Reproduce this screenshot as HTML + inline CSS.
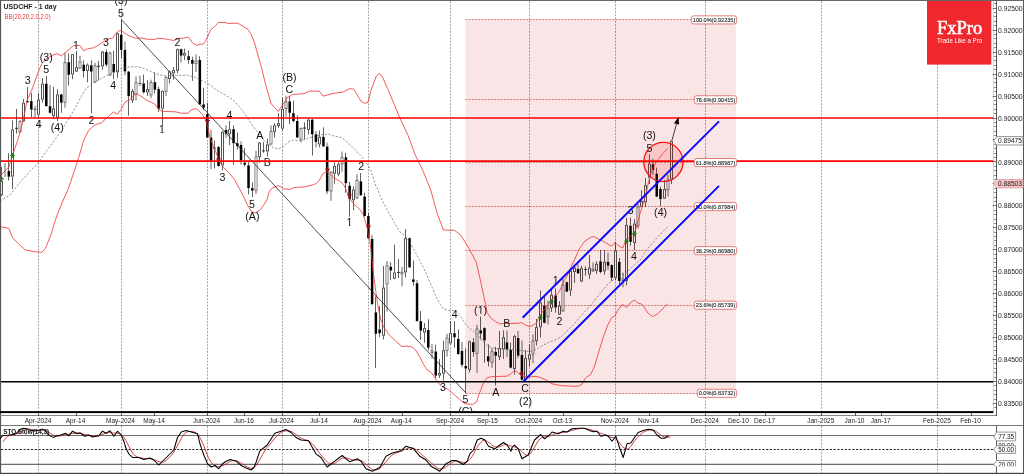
<!DOCTYPE html>
<html lang="en">
<head>
<meta charset="utf-8">
<title>USDCHF - 1 day</title>
<style>
html,body{margin:0;padding:0;background:#fff;}
body{width:1024px;height:474px;overflow:hidden;font-family:"Liberation Sans", Arial, sans-serif;}
svg{display:block;}
</style>
</head>
<body>
<svg width="1024" height="474" viewBox="0 0 1024 474" font-family='"Liberation Sans", Arial, sans-serif'>
<rect x="0" y="0" width="1024" height="474" fill="#fff"/>
<rect x="465.4" y="19.84" width="270.60" height="373.45" fill="#f5d5d5" fill-opacity="0.62"/>
<g stroke="#d44a4a" stroke-width="0.8" stroke-opacity="0.8" stroke-dasharray="2.3 0.9" fill="none">
<line x1="465.4" y1="19.50" x2="736" y2="19.50"/>
<line x1="465.4" y1="99.50" x2="736" y2="99.50"/>
<line x1="465.4" y1="162.50" x2="736" y2="162.50"/>
<line x1="465.4" y1="206.50" x2="736" y2="206.50"/>
<line x1="465.4" y1="250.50" x2="736" y2="250.50"/>
<line x1="465.4" y1="305.50" x2="736" y2="305.50"/>
<line x1="465.4" y1="393.50" x2="736" y2="393.50"/>
</g>
<g stroke="#000" stroke-opacity="0.42" stroke-width="0.85" stroke-dasharray="2 1.3" fill="none">
<line x1="38.50" y1="1" x2="38.50" y2="411.5"/>
<line x1="38.50" y1="426" x2="38.50" y2="473"/>
<line x1="121.50" y1="1" x2="121.50" y2="411.5"/>
<line x1="121.50" y1="426" x2="121.50" y2="473"/>
<line x1="207.50" y1="1" x2="207.50" y2="411.5"/>
<line x1="207.50" y1="426" x2="207.50" y2="473"/>
<line x1="282.50" y1="1" x2="282.50" y2="411.5"/>
<line x1="282.50" y1="426" x2="282.50" y2="473"/>
<line x1="368.50" y1="1" x2="368.50" y2="411.5"/>
<line x1="368.50" y1="426" x2="368.50" y2="473"/>
<line x1="450.50" y1="1" x2="450.50" y2="411.5"/>
<line x1="450.50" y1="426" x2="450.50" y2="473"/>
<line x1="529.50" y1="1" x2="529.50" y2="411.5"/>
<line x1="529.50" y1="426" x2="529.50" y2="473"/>
<line x1="615.50" y1="1" x2="615.50" y2="411.5"/>
<line x1="615.50" y1="426" x2="615.50" y2="473"/>
<line x1="705.50" y1="1" x2="705.50" y2="411.5"/>
<line x1="705.50" y1="426" x2="705.50" y2="473"/>
<line x1="821.50" y1="1" x2="821.50" y2="411.5"/>
<line x1="821.50" y1="426" x2="821.50" y2="473"/>
<line x1="937.50" y1="1" x2="937.50" y2="411.5"/>
<line x1="937.50" y1="426" x2="937.50" y2="473"/>
</g>
<defs><clipPath id="clipMain"><rect x="0" y="0" width="994" height="411"/></clipPath><clipPath id="clip20"><rect x="990" y="455" width="34" height="11.3"/></clipPath></defs>
<g fill="#000">
<rect x="1" y="181.0" width="1" height="14.0" fill-opacity="1" fill="#fff"/>
<rect x="1" y="167.0" width="1" height="14.0" fill-opacity="0.62"/>
<rect x="1" y="195.0" width="1" height="1.0" fill-opacity="0.62"/>
<rect x="0" y="181.0" width="1" height="14.0" fill-opacity="0.68"/>
<rect x="2" y="181.0" width="1" height="14.0" fill-opacity="0.68"/>
<rect x="1" y="181.0" width="1" height="0.9" fill-opacity="0.68"/>
<rect x="1" y="194.1" width="1" height="0.9" fill-opacity="0.68"/>
<rect x="4" y="163.0" width="2" height="14.0" fill-opacity="0.3"/>
<rect x="8" y="153.3" width="1" height="17.7" fill-opacity="0.62"/>
<rect x="8" y="176.7" width="1" height="3.8" fill-opacity="0.62"/>
<rect x="7.59" y="171.0" width="2.5" height="5.7" fill-opacity="1"/>
<rect x="12" y="129.5" width="1" height="47.0" fill-opacity="1" fill="#fff"/>
<rect x="12" y="120.4" width="1" height="9.1" fill-opacity="0.62"/>
<rect x="12" y="176.5" width="1" height="12.5" fill-opacity="0.62"/>
<rect x="11" y="129.5" width="1" height="47.0" fill-opacity="0.68"/>
<rect x="13" y="129.5" width="1" height="47.0" fill-opacity="0.68"/>
<rect x="12" y="129.5" width="1" height="0.9" fill-opacity="0.68"/>
<rect x="12" y="175.6" width="1" height="0.9" fill-opacity="0.68"/>
<rect x="16" y="109.0" width="1" height="24.7" fill-opacity="0.62"/>
<rect x="15" y="127.8" width="3" height="1.0" fill-opacity="0.8"/>
<rect x="19" y="121.0" width="2" height="11.4" fill-opacity="1" fill="#fff"/>
<rect x="19" y="120.0" width="2" height="1.0" fill-opacity="0.3"/>
<rect x="19" y="132.4" width="2" height="0.6" fill-opacity="0.3"/>
<rect x="18" y="121.0" width="4" height="11.4" fill-opacity="0.2"/>
<rect x="18" y="121.0" width="1" height="11.4" fill-opacity="0.1"/>
<rect x="21" y="121.0" width="1" height="11.4" fill-opacity="0.1"/>
<rect x="19" y="121.0" width="2" height="0.9" fill-opacity="0.5"/>
<rect x="19" y="131.5" width="2" height="0.9" fill-opacity="0.5"/>
<rect x="23" y="102.7" width="1" height="18.7" fill-opacity="1" fill="#fff"/>
<rect x="23" y="98.9" width="1" height="3.8" fill-opacity="0.62"/>
<rect x="23" y="121.4" width="1" height="0.6" fill-opacity="0.62"/>
<rect x="22" y="102.7" width="1" height="18.7" fill-opacity="0.68"/>
<rect x="24" y="102.7" width="1" height="18.7" fill-opacity="0.68"/>
<rect x="23" y="102.7" width="1" height="0.9" fill-opacity="0.68"/>
<rect x="23" y="120.5" width="1" height="0.9" fill-opacity="0.68"/>
<rect x="27" y="86.8" width="1" height="16.2" fill-opacity="0.62"/>
<rect x="26" y="101.2" width="3" height="1.0" fill-opacity="0.8"/>
<rect x="31" y="93.2" width="1" height="7.9" fill-opacity="0.62"/>
<rect x="31" y="109.6" width="1" height="7.6" fill-opacity="0.62"/>
<rect x="30.07" y="101.1" width="2.5" height="8.5" fill-opacity="1"/>
<rect x="34" y="105.8" width="2" height="11.4" fill-opacity="0.3"/>
<rect x="33" y="108.8" width="4" height="1.0" fill-opacity="0.45"/>
<rect x="38" y="99.5" width="1" height="15.2" fill-opacity="1" fill="#fff"/>
<rect x="38" y="93.2" width="1" height="6.3" fill-opacity="0.62"/>
<rect x="38" y="114.7" width="1" height="2.5" fill-opacity="0.62"/>
<rect x="37" y="99.5" width="1" height="15.2" fill-opacity="0.68"/>
<rect x="39" y="99.5" width="1" height="15.2" fill-opacity="0.68"/>
<rect x="38" y="99.5" width="1" height="0.9" fill-opacity="0.68"/>
<rect x="38" y="113.8" width="1" height="0.9" fill-opacity="0.68"/>
<rect x="42" y="83.7" width="1" height="15.8" fill-opacity="1" fill="#fff"/>
<rect x="42" y="78.0" width="1" height="5.7" fill-opacity="0.62"/>
<rect x="42" y="99.5" width="1" height="3.2" fill-opacity="0.62"/>
<rect x="41" y="83.7" width="1" height="15.8" fill-opacity="0.68"/>
<rect x="43" y="83.7" width="1" height="15.8" fill-opacity="0.68"/>
<rect x="42" y="83.7" width="1" height="0.9" fill-opacity="0.68"/>
<rect x="42" y="98.6" width="1" height="0.9" fill-opacity="0.68"/>
<rect x="46" y="76.1" width="1" height="7.6" fill-opacity="0.62"/>
<rect x="46" y="106.2" width="1" height="0.3" fill-opacity="0.62"/>
<rect x="45.04" y="83.7" width="2.5" height="22.5" fill-opacity="1"/>
<rect x="49" y="85.0" width="2" height="21.2" fill-opacity="0.3"/>
<rect x="49" y="112.8" width="2" height="0.7" fill-opacity="0.3"/>
<rect x="48.79" y="106.2" width="2.5" height="6.6" fill-opacity="1"/>
<rect x="53" y="108.4" width="1" height="7.6" fill-opacity="1" fill="#fff"/>
<rect x="53" y="86.8" width="1" height="21.6" fill-opacity="0.62"/>
<rect x="53" y="116.0" width="1" height="3.1" fill-opacity="0.62"/>
<rect x="52" y="108.4" width="1" height="7.6" fill-opacity="0.68"/>
<rect x="54" y="108.4" width="1" height="7.6" fill-opacity="0.68"/>
<rect x="53" y="108.4" width="1" height="0.9" fill-opacity="0.68"/>
<rect x="53" y="115.1" width="1" height="0.9" fill-opacity="0.68"/>
<rect x="57" y="94.4" width="1" height="23.4" fill-opacity="1" fill="#fff"/>
<rect x="57" y="89.4" width="1" height="5.0" fill-opacity="0.62"/>
<rect x="57" y="117.8" width="1" height="3.2" fill-opacity="0.62"/>
<rect x="56" y="94.4" width="1" height="23.4" fill-opacity="0.68"/>
<rect x="58" y="94.4" width="1" height="23.4" fill-opacity="0.68"/>
<rect x="57" y="94.4" width="1" height="0.9" fill-opacity="0.68"/>
<rect x="57" y="116.9" width="1" height="0.9" fill-opacity="0.68"/>
<rect x="61" y="93.8" width="1" height="0.6" fill-opacity="0.62"/>
<rect x="61" y="102.7" width="1" height="10.1" fill-opacity="0.62"/>
<rect x="60.02" y="94.4" width="2.5" height="8.3" fill-opacity="1"/>
<rect x="64" y="62.2" width="2" height="40.5" fill-opacity="1" fill="#fff"/>
<rect x="64" y="52.7" width="2" height="9.5" fill-opacity="0.3"/>
<rect x="64" y="102.7" width="2" height="5.0" fill-opacity="0.3"/>
<rect x="63" y="62.2" width="4" height="40.5" fill-opacity="0.2"/>
<rect x="63" y="62.2" width="1" height="40.5" fill-opacity="0.1"/>
<rect x="66" y="62.2" width="1" height="40.5" fill-opacity="0.1"/>
<rect x="64" y="62.2" width="2" height="0.9" fill-opacity="0.5"/>
<rect x="64" y="101.8" width="2" height="0.9" fill-opacity="0.5"/>
<rect x="68" y="53.3" width="1" height="8.9" fill-opacity="0.62"/>
<rect x="68" y="74.8" width="1" height="10.8" fill-opacity="0.62"/>
<rect x="67.52" y="62.2" width="2.5" height="12.6" fill-opacity="1"/>
<rect x="72" y="54.2" width="1" height="20.2" fill-opacity="1" fill="#fff"/>
<rect x="72" y="54.0" width="1" height="0.2" fill-opacity="0.62"/>
<rect x="72" y="74.4" width="1" height="4.8" fill-opacity="0.62"/>
<rect x="71" y="54.2" width="1" height="20.2" fill-opacity="0.68"/>
<rect x="73" y="54.2" width="1" height="20.2" fill-opacity="0.68"/>
<rect x="72" y="54.2" width="1" height="0.9" fill-opacity="0.68"/>
<rect x="72" y="73.5" width="1" height="0.9" fill-opacity="0.68"/>
<rect x="76" y="67.2" width="1" height="4.4" fill-opacity="1" fill="#fff"/>
<rect x="76" y="50.8" width="1" height="16.4" fill-opacity="0.62"/>
<rect x="76" y="71.6" width="1" height="0.2" fill-opacity="0.62"/>
<rect x="75" y="67.2" width="1" height="4.4" fill-opacity="0.68"/>
<rect x="77" y="67.2" width="1" height="4.4" fill-opacity="0.68"/>
<rect x="76" y="67.2" width="1" height="0.9" fill-opacity="0.68"/>
<rect x="76" y="70.7" width="1" height="0.9" fill-opacity="0.68"/>
<rect x="79" y="61.5" width="2" height="7.0" fill-opacity="1" fill="#fff"/>
<rect x="79" y="55.8" width="2" height="5.7" fill-opacity="0.3"/>
<rect x="79" y="68.5" width="2" height="0.5" fill-opacity="0.3"/>
<rect x="78" y="61.5" width="4" height="7.0" fill-opacity="0.2"/>
<rect x="78" y="61.5" width="1" height="7.0" fill-opacity="0.1"/>
<rect x="81" y="61.5" width="1" height="7.0" fill-opacity="0.1"/>
<rect x="79" y="61.5" width="2" height="0.9" fill-opacity="0.5"/>
<rect x="79" y="67.6" width="2" height="0.9" fill-opacity="0.5"/>
<rect x="83" y="60.3" width="1" height="4.4" fill-opacity="0.62"/>
<rect x="83" y="71.0" width="1" height="6.3" fill-opacity="0.62"/>
<rect x="82.5" y="64.7" width="2.5" height="6.3" fill-opacity="1"/>
<rect x="87" y="64.7" width="1" height="6.3" fill-opacity="1" fill="#fff"/>
<rect x="87" y="63.4" width="1" height="1.3" fill-opacity="0.62"/>
<rect x="87" y="71.0" width="1" height="11.4" fill-opacity="0.62"/>
<rect x="86" y="64.7" width="1" height="6.3" fill-opacity="0.68"/>
<rect x="88" y="64.7" width="1" height="6.3" fill-opacity="0.68"/>
<rect x="87" y="64.7" width="1" height="0.9" fill-opacity="0.68"/>
<rect x="87" y="70.1" width="1" height="0.9" fill-opacity="0.68"/>
<rect x="91" y="60.3" width="1" height="5.0" fill-opacity="0.62"/>
<rect x="91" y="71.6" width="1" height="41.8" fill-opacity="0.62"/>
<rect x="89.98" y="65.3" width="2.5" height="6.3" fill-opacity="1"/>
<rect x="94" y="65.3" width="2" height="17.1" fill-opacity="1" fill="#fff"/>
<rect x="94" y="62.8" width="2" height="2.5" fill-opacity="0.3"/>
<rect x="94" y="82.4" width="2" height="0.6" fill-opacity="0.3"/>
<rect x="93" y="65.3" width="4" height="17.1" fill-opacity="0.2"/>
<rect x="93" y="65.3" width="1" height="17.1" fill-opacity="0.1"/>
<rect x="96" y="65.3" width="1" height="17.1" fill-opacity="0.1"/>
<rect x="94" y="65.3" width="2" height="0.9" fill-opacity="0.5"/>
<rect x="94" y="81.5" width="2" height="0.9" fill-opacity="0.5"/>
<rect x="98" y="60.9" width="1" height="19.6" fill-opacity="0.62"/>
<rect x="97" y="65.8" width="3" height="1.0" fill-opacity="0.8"/>
<rect x="102" y="51.6" width="1" height="14.7" fill-opacity="1" fill="#fff"/>
<rect x="102" y="51.0" width="1" height="0.6" fill-opacity="0.62"/>
<rect x="102" y="66.3" width="1" height="3.4" fill-opacity="0.62"/>
<rect x="101" y="51.6" width="1" height="14.7" fill-opacity="0.68"/>
<rect x="103" y="51.6" width="1" height="14.7" fill-opacity="0.68"/>
<rect x="102" y="51.6" width="1" height="0.9" fill-opacity="0.68"/>
<rect x="102" y="65.4" width="1" height="0.9" fill-opacity="0.68"/>
<rect x="106" y="49.5" width="1" height="2.5" fill-opacity="0.62"/>
<rect x="106" y="64.7" width="1" height="1.9" fill-opacity="0.62"/>
<rect x="104.97" y="52.0" width="2.5" height="12.7" fill-opacity="1"/>
<rect x="109" y="52.7" width="2" height="22.7" fill-opacity="1" fill="#fff"/>
<rect x="109" y="51.5" width="2" height="1.2" fill-opacity="0.3"/>
<rect x="109" y="75.4" width="2" height="0.6" fill-opacity="0.3"/>
<rect x="108" y="52.7" width="4" height="22.7" fill-opacity="0.2"/>
<rect x="108" y="52.7" width="1" height="22.7" fill-opacity="0.1"/>
<rect x="111" y="52.7" width="1" height="22.7" fill-opacity="0.1"/>
<rect x="109" y="52.7" width="2" height="0.9" fill-opacity="0.5"/>
<rect x="109" y="74.5" width="2" height="0.9" fill-opacity="0.5"/>
<rect x="113" y="50.8" width="1" height="13.2" fill-opacity="0.62"/>
<rect x="113" y="72.3" width="1" height="6.9" fill-opacity="0.62"/>
<rect x="112.46" y="64.0" width="2.5" height="8.3" fill-opacity="1"/>
<rect x="117" y="33.2" width="1" height="39.1" fill-opacity="1" fill="#fff"/>
<rect x="117" y="32.3" width="1" height="0.9" fill-opacity="0.62"/>
<rect x="117" y="72.3" width="1" height="5.7" fill-opacity="0.62"/>
<rect x="116" y="33.2" width="1" height="39.1" fill-opacity="0.68"/>
<rect x="118" y="33.2" width="1" height="39.1" fill-opacity="0.68"/>
<rect x="117" y="33.2" width="1" height="0.9" fill-opacity="0.68"/>
<rect x="117" y="71.4" width="1" height="0.9" fill-opacity="0.68"/>
<rect x="121" y="19.5" width="1" height="15.2" fill-opacity="0.62"/>
<rect x="121" y="49.9" width="1" height="8.1" fill-opacity="0.62"/>
<rect x="119.95" y="34.7" width="2.5" height="15.2" fill-opacity="1"/>
<rect x="124" y="41.6" width="2" height="8.3" fill-opacity="0.3"/>
<rect x="124" y="71.4" width="2" height="3.8" fill-opacity="0.3"/>
<rect x="123.69" y="49.9" width="2.5" height="21.5" fill-opacity="1"/>
<rect x="128" y="71.0" width="1" height="0.6" fill-opacity="0.62"/>
<rect x="128" y="96.1" width="1" height="19.6" fill-opacity="0.62"/>
<rect x="127.43" y="71.6" width="2.5" height="24.5" fill-opacity="1"/>
<rect x="132" y="91.0" width="1" height="9.5" fill-opacity="1" fill="#fff"/>
<rect x="132" y="88.9" width="1" height="2.1" fill-opacity="0.62"/>
<rect x="132" y="100.5" width="1" height="2.5" fill-opacity="0.62"/>
<rect x="131" y="91.0" width="1" height="9.5" fill-opacity="0.68"/>
<rect x="133" y="91.0" width="1" height="9.5" fill-opacity="0.68"/>
<rect x="132" y="91.0" width="1" height="0.9" fill-opacity="0.68"/>
<rect x="132" y="99.6" width="1" height="0.9" fill-opacity="0.68"/>
<rect x="135" y="82.2" width="2" height="12.0" fill-opacity="1" fill="#fff"/>
<rect x="135" y="76.5" width="2" height="5.7" fill-opacity="0.3"/>
<rect x="135" y="94.2" width="2" height="6.3" fill-opacity="0.3"/>
<rect x="134" y="82.2" width="4" height="12.0" fill-opacity="0.2"/>
<rect x="134" y="82.2" width="1" height="12.0" fill-opacity="0.1"/>
<rect x="137" y="82.2" width="1" height="12.0" fill-opacity="0.1"/>
<rect x="135" y="82.2" width="2" height="0.9" fill-opacity="0.5"/>
<rect x="135" y="93.3" width="2" height="0.9" fill-opacity="0.5"/>
<rect x="139" y="75.8" width="2" height="10.2" fill-opacity="0.3"/>
<rect x="138" y="82.9" width="4" height="1.0" fill-opacity="0.45"/>
<rect x="143" y="74.6" width="1" height="8.8" fill-opacity="0.62"/>
<rect x="143" y="92.3" width="1" height="1.2" fill-opacity="0.62"/>
<rect x="142.42" y="83.4" width="2.5" height="8.9" fill-opacity="1"/>
<rect x="147" y="89.1" width="1" height="3.2" fill-opacity="1" fill="#fff"/>
<rect x="147" y="80.3" width="1" height="8.8" fill-opacity="0.62"/>
<rect x="147" y="92.3" width="1" height="3.8" fill-opacity="0.62"/>
<rect x="146" y="89.1" width="1" height="3.2" fill-opacity="0.68"/>
<rect x="148" y="89.1" width="1" height="3.2" fill-opacity="0.68"/>
<rect x="147" y="89.1" width="1" height="0.9" fill-opacity="0.68"/>
<rect x="147" y="91.4" width="1" height="0.9" fill-opacity="0.68"/>
<rect x="150" y="82.2" width="2" height="13.2" fill-opacity="1" fill="#fff"/>
<rect x="150" y="79.6" width="2" height="2.6" fill-opacity="0.3"/>
<rect x="150" y="95.4" width="2" height="2.6" fill-opacity="0.3"/>
<rect x="149" y="82.2" width="4" height="13.2" fill-opacity="0.2"/>
<rect x="149" y="82.2" width="1" height="13.2" fill-opacity="0.1"/>
<rect x="152" y="82.2" width="1" height="13.2" fill-opacity="0.1"/>
<rect x="150" y="82.2" width="2" height="0.9" fill-opacity="0.5"/>
<rect x="150" y="94.5" width="2" height="0.9" fill-opacity="0.5"/>
<rect x="154" y="72.7" width="1" height="9.5" fill-opacity="0.62"/>
<rect x="154" y="89.7" width="1" height="3.8" fill-opacity="0.62"/>
<rect x="153.65" y="82.2" width="2.5" height="7.5" fill-opacity="1"/>
<rect x="158" y="86.6" width="1" height="2.5" fill-opacity="0.62"/>
<rect x="158" y="108.7" width="1" height="3.2" fill-opacity="0.62"/>
<rect x="157.4" y="89.1" width="2.5" height="19.6" fill-opacity="1"/>
<rect x="162" y="91.0" width="1" height="17.7" fill-opacity="1" fill="#fff"/>
<rect x="162" y="90.4" width="1" height="0.6" fill-opacity="0.62"/>
<rect x="162" y="108.7" width="1" height="16.6" fill-opacity="0.62"/>
<rect x="161" y="91.0" width="1" height="17.7" fill-opacity="0.68"/>
<rect x="163" y="91.0" width="1" height="17.7" fill-opacity="0.68"/>
<rect x="162" y="91.0" width="1" height="0.9" fill-opacity="0.68"/>
<rect x="162" y="107.8" width="1" height="0.9" fill-opacity="0.68"/>
<rect x="165" y="77.1" width="2" height="14.5" fill-opacity="1" fill="#fff"/>
<rect x="165" y="76.5" width="2" height="0.6" fill-opacity="0.3"/>
<rect x="165" y="91.6" width="2" height="4.4" fill-opacity="0.3"/>
<rect x="164" y="77.1" width="4" height="14.5" fill-opacity="0.2"/>
<rect x="164" y="77.1" width="1" height="14.5" fill-opacity="0.1"/>
<rect x="167" y="77.1" width="1" height="14.5" fill-opacity="0.1"/>
<rect x="165" y="77.1" width="2" height="0.9" fill-opacity="0.5"/>
<rect x="165" y="90.7" width="2" height="0.9" fill-opacity="0.5"/>
<rect x="169" y="71.4" width="1" height="7.6" fill-opacity="1" fill="#fff"/>
<rect x="169" y="70.8" width="1" height="0.6" fill-opacity="0.62"/>
<rect x="169" y="79.0" width="1" height="4.4" fill-opacity="0.62"/>
<rect x="168" y="71.4" width="1" height="7.6" fill-opacity="0.68"/>
<rect x="170" y="71.4" width="1" height="7.6" fill-opacity="0.68"/>
<rect x="169" y="71.4" width="1" height="0.9" fill-opacity="0.68"/>
<rect x="169" y="78.1" width="1" height="0.9" fill-opacity="0.68"/>
<rect x="173" y="70.1" width="1" height="3.2" fill-opacity="1" fill="#fff"/>
<rect x="173" y="67.0" width="1" height="3.1" fill-opacity="0.62"/>
<rect x="173" y="73.3" width="1" height="6.3" fill-opacity="0.62"/>
<rect x="172" y="70.1" width="1" height="3.2" fill-opacity="0.68"/>
<rect x="174" y="70.1" width="1" height="3.2" fill-opacity="0.68"/>
<rect x="173" y="70.1" width="1" height="0.9" fill-opacity="0.68"/>
<rect x="173" y="72.4" width="1" height="0.9" fill-opacity="0.68"/>
<rect x="177" y="49.2" width="1" height="21.6" fill-opacity="1" fill="#fff"/>
<rect x="177" y="48.6" width="1" height="0.6" fill-opacity="0.62"/>
<rect x="177" y="70.8" width="1" height="2.5" fill-opacity="0.62"/>
<rect x="176" y="49.2" width="1" height="21.6" fill-opacity="0.68"/>
<rect x="178" y="49.2" width="1" height="21.6" fill-opacity="0.68"/>
<rect x="177" y="49.2" width="1" height="0.9" fill-opacity="0.68"/>
<rect x="177" y="69.9" width="1" height="0.9" fill-opacity="0.68"/>
<rect x="180" y="48.6" width="2" height="0.6" fill-opacity="0.3"/>
<rect x="180" y="55.6" width="2" height="6.9" fill-opacity="0.3"/>
<rect x="179.87" y="49.2" width="2.5" height="6.4" fill-opacity="1"/>
<rect x="184" y="53.0" width="1" height="2.6" fill-opacity="1" fill="#fff"/>
<rect x="184" y="48.6" width="1" height="4.4" fill-opacity="0.62"/>
<rect x="184" y="55.6" width="1" height="4.4" fill-opacity="0.62"/>
<rect x="183" y="53.0" width="1" height="2.6" fill-opacity="0.68"/>
<rect x="185" y="53.0" width="1" height="2.6" fill-opacity="0.68"/>
<rect x="184" y="53.0" width="1" height="0.9" fill-opacity="0.68"/>
<rect x="184" y="54.7" width="1" height="0.9" fill-opacity="0.68"/>
<rect x="188" y="50.5" width="1" height="5.7" fill-opacity="0.62"/>
<rect x="188" y="60.0" width="1" height="3.8" fill-opacity="0.62"/>
<rect x="187.36" y="56.2" width="2.5" height="3.8" fill-opacity="1"/>
<rect x="192" y="56.8" width="1" height="3.2" fill-opacity="0.62"/>
<rect x="192" y="63.8" width="1" height="17.1" fill-opacity="0.62"/>
<rect x="191.1" y="60.0" width="2.5" height="3.8" fill-opacity="1"/>
<rect x="195" y="60.6" width="2" height="3.2" fill-opacity="1" fill="#fff"/>
<rect x="195" y="54.3" width="2" height="6.3" fill-opacity="0.3"/>
<rect x="195" y="63.8" width="2" height="8.2" fill-opacity="0.3"/>
<rect x="194" y="60.6" width="4" height="3.2" fill-opacity="0.2"/>
<rect x="194" y="60.6" width="1" height="3.2" fill-opacity="0.1"/>
<rect x="197" y="60.6" width="1" height="3.2" fill-opacity="0.1"/>
<rect x="195" y="60.6" width="2" height="0.9" fill-opacity="0.5"/>
<rect x="195" y="62.9" width="2" height="0.9" fill-opacity="0.5"/>
<rect x="199" y="56.2" width="1" height="3.8" fill-opacity="0.62"/>
<rect x="199" y="104.3" width="1" height="0.7" fill-opacity="0.62"/>
<rect x="198.59" y="60.0" width="2.5" height="44.3" fill-opacity="1"/>
<rect x="203" y="87.8" width="1" height="16.5" fill-opacity="0.62"/>
<rect x="203" y="107.8" width="1" height="2.2" fill-opacity="0.62"/>
<rect x="202.34" y="104.3" width="2.5" height="3.5" fill-opacity="1"/>
<rect x="207" y="102.7" width="1" height="11.3" fill-opacity="0.62"/>
<rect x="207" y="137.5" width="1" height="0.5" fill-opacity="0.62"/>
<rect x="206.08" y="114.0" width="2.5" height="23.5" fill-opacity="1"/>
<rect x="210" y="129.9" width="2" height="7.6" fill-opacity="0.3"/>
<rect x="210" y="160.9" width="2" height="8.1" fill-opacity="0.3"/>
<rect x="209.83" y="137.5" width="2.5" height="23.4" fill-opacity="1"/>
<rect x="214" y="140.6" width="1" height="27.9" fill-opacity="0.62"/>
<rect x="213" y="147.6" width="3" height="1.0" fill-opacity="0.8"/>
<rect x="218" y="146.0" width="1" height="1.0" fill-opacity="0.62"/>
<rect x="218" y="166.0" width="1" height="0.5" fill-opacity="0.62"/>
<rect x="217.32" y="147.0" width="2.5" height="19.0" fill-opacity="1"/>
<rect x="222" y="131.8" width="1" height="33.5" fill-opacity="1" fill="#fff"/>
<rect x="222" y="131.0" width="1" height="0.8" fill-opacity="0.62"/>
<rect x="222" y="165.3" width="1" height="5.1" fill-opacity="0.62"/>
<rect x="221" y="131.8" width="1" height="33.5" fill-opacity="0.68"/>
<rect x="223" y="131.8" width="1" height="33.5" fill-opacity="0.68"/>
<rect x="222" y="131.8" width="1" height="0.9" fill-opacity="0.68"/>
<rect x="222" y="164.4" width="1" height="0.9" fill-opacity="0.68"/>
<rect x="225" y="125.4" width="2" height="4.5" fill-opacity="0.3"/>
<rect x="225" y="133.7" width="2" height="4.3" fill-opacity="0.3"/>
<rect x="224.81" y="129.9" width="2.5" height="3.8" fill-opacity="1"/>
<rect x="229" y="129.2" width="1" height="5.1" fill-opacity="1" fill="#fff"/>
<rect x="229" y="121.0" width="1" height="8.2" fill-opacity="0.62"/>
<rect x="229" y="134.3" width="1" height="10.7" fill-opacity="0.62"/>
<rect x="228" y="129.2" width="1" height="5.1" fill-opacity="0.68"/>
<rect x="230" y="129.2" width="1" height="5.1" fill-opacity="0.68"/>
<rect x="229" y="129.2" width="1" height="0.9" fill-opacity="0.68"/>
<rect x="229" y="133.4" width="1" height="0.9" fill-opacity="0.68"/>
<rect x="233" y="125.4" width="1" height="3.8" fill-opacity="0.62"/>
<rect x="233" y="143.2" width="1" height="21.5" fill-opacity="0.62"/>
<rect x="232.3" y="129.2" width="2.5" height="14.0" fill-opacity="1"/>
<rect x="237" y="132.4" width="1" height="10.8" fill-opacity="0.62"/>
<rect x="237" y="146.0" width="1" height="3.5" fill-opacity="0.62"/>
<rect x="236.04" y="143.2" width="2.5" height="2.8" fill-opacity="1"/>
<rect x="240" y="141.3" width="2" height="3.7" fill-opacity="0.3"/>
<rect x="240" y="160.3" width="2" height="4.4" fill-opacity="0.3"/>
<rect x="239.79" y="145.0" width="2.5" height="15.3" fill-opacity="1"/>
<rect x="244" y="148.2" width="1" height="14.6" fill-opacity="0.62"/>
<rect x="244" y="164.7" width="1" height="1.9" fill-opacity="0.62"/>
<rect x="243.53" y="162.8" width="2.5" height="1.9" fill-opacity="1"/>
<rect x="248" y="162.2" width="1" height="3.1" fill-opacity="0.62"/>
<rect x="248" y="188.1" width="1" height="6.3" fill-opacity="0.62"/>
<rect x="247.28" y="165.3" width="2.5" height="22.8" fill-opacity="1"/>
<rect x="252" y="182.4" width="1" height="5.7" fill-opacity="0.62"/>
<rect x="252" y="190.6" width="1" height="6.4" fill-opacity="0.62"/>
<rect x="251.02" y="188.1" width="2.5" height="2.5" fill-opacity="1"/>
<rect x="255" y="156.5" width="2" height="34.1" fill-opacity="1" fill="#fff"/>
<rect x="255" y="150.8" width="2" height="5.7" fill-opacity="0.3"/>
<rect x="255" y="190.6" width="2" height="3.2" fill-opacity="0.3"/>
<rect x="254" y="156.5" width="4" height="34.1" fill-opacity="0.2"/>
<rect x="254" y="156.5" width="1" height="34.1" fill-opacity="0.1"/>
<rect x="257" y="156.5" width="1" height="34.1" fill-opacity="0.1"/>
<rect x="255" y="156.5" width="2" height="0.9" fill-opacity="0.5"/>
<rect x="255" y="189.7" width="2" height="0.9" fill-opacity="0.5"/>
<rect x="259" y="142.5" width="1" height="14.6" fill-opacity="1" fill="#fff"/>
<rect x="259" y="142.0" width="1" height="0.5" fill-opacity="0.62"/>
<rect x="259" y="157.1" width="1" height="5.7" fill-opacity="0.62"/>
<rect x="258" y="142.5" width="1" height="14.6" fill-opacity="0.68"/>
<rect x="260" y="142.5" width="1" height="14.6" fill-opacity="0.68"/>
<rect x="259" y="142.5" width="1" height="0.9" fill-opacity="0.68"/>
<rect x="259" y="156.2" width="1" height="0.9" fill-opacity="0.68"/>
<rect x="263" y="141.9" width="1" height="10.8" fill-opacity="0.62"/>
<rect x="262" y="150.4" width="3" height="1.0" fill-opacity="0.8"/>
<rect x="267" y="144.4" width="1" height="7.0" fill-opacity="1" fill="#fff"/>
<rect x="267" y="138.7" width="1" height="5.7" fill-opacity="0.62"/>
<rect x="267" y="151.4" width="1" height="5.1" fill-opacity="0.62"/>
<rect x="266" y="144.4" width="1" height="7.0" fill-opacity="0.68"/>
<rect x="268" y="144.4" width="1" height="7.0" fill-opacity="0.68"/>
<rect x="267" y="144.4" width="1" height="0.9" fill-opacity="0.68"/>
<rect x="267" y="150.5" width="1" height="0.9" fill-opacity="0.68"/>
<rect x="270" y="131.1" width="2" height="13.3" fill-opacity="1" fill="#fff"/>
<rect x="270" y="125.4" width="2" height="5.7" fill-opacity="0.3"/>
<rect x="270" y="144.4" width="2" height="0.6" fill-opacity="0.3"/>
<rect x="269" y="131.1" width="4" height="13.3" fill-opacity="0.2"/>
<rect x="269" y="131.1" width="1" height="13.3" fill-opacity="0.1"/>
<rect x="272" y="131.1" width="1" height="13.3" fill-opacity="0.1"/>
<rect x="270" y="131.1" width="2" height="0.9" fill-opacity="0.5"/>
<rect x="270" y="143.5" width="2" height="0.9" fill-opacity="0.5"/>
<rect x="274" y="125.4" width="1" height="6.4" fill-opacity="1" fill="#fff"/>
<rect x="274" y="123.2" width="1" height="2.2" fill-opacity="0.62"/>
<rect x="274" y="131.8" width="1" height="5.7" fill-opacity="0.62"/>
<rect x="273" y="125.4" width="1" height="6.4" fill-opacity="0.68"/>
<rect x="275" y="125.4" width="1" height="6.4" fill-opacity="0.68"/>
<rect x="274" y="125.4" width="1" height="0.9" fill-opacity="0.68"/>
<rect x="274" y="130.9" width="1" height="0.9" fill-opacity="0.68"/>
<rect x="278" y="123.2" width="1" height="2.8" fill-opacity="1" fill="#fff"/>
<rect x="278" y="113.4" width="1" height="9.8" fill-opacity="0.62"/>
<rect x="278" y="126.0" width="1" height="2.0" fill-opacity="0.62"/>
<rect x="277" y="123.2" width="1" height="2.8" fill-opacity="0.68"/>
<rect x="279" y="123.2" width="1" height="2.8" fill-opacity="0.68"/>
<rect x="278" y="123.2" width="1" height="0.9" fill-opacity="0.68"/>
<rect x="278" y="125.1" width="1" height="0.9" fill-opacity="0.68"/>
<rect x="282" y="109.0" width="1" height="19.6" fill-opacity="1" fill="#fff"/>
<rect x="282" y="97.6" width="1" height="11.4" fill-opacity="0.62"/>
<rect x="282" y="128.6" width="1" height="1.9" fill-opacity="0.62"/>
<rect x="281" y="109.0" width="1" height="19.6" fill-opacity="0.68"/>
<rect x="283" y="109.0" width="1" height="19.6" fill-opacity="0.68"/>
<rect x="282" y="109.0" width="1" height="0.9" fill-opacity="0.68"/>
<rect x="282" y="127.7" width="1" height="0.9" fill-opacity="0.68"/>
<rect x="285" y="101.4" width="2" height="7.6" fill-opacity="1" fill="#fff"/>
<rect x="285" y="95.7" width="2" height="5.7" fill-opacity="0.3"/>
<rect x="285" y="109.0" width="2" height="7.6" fill-opacity="0.3"/>
<rect x="284" y="101.4" width="4" height="7.6" fill-opacity="0.2"/>
<rect x="284" y="101.4" width="1" height="7.6" fill-opacity="0.1"/>
<rect x="287" y="101.4" width="1" height="7.6" fill-opacity="0.1"/>
<rect x="285" y="101.4" width="2" height="0.9" fill-opacity="0.5"/>
<rect x="285" y="108.1" width="2" height="0.9" fill-opacity="0.5"/>
<rect x="289" y="96.3" width="1" height="5.1" fill-opacity="0.62"/>
<rect x="289" y="112.8" width="1" height="11.4" fill-opacity="0.62"/>
<rect x="288.47" y="101.4" width="2.5" height="11.4" fill-opacity="1"/>
<rect x="293" y="100.8" width="1" height="12.4" fill-opacity="0.62"/>
<rect x="293" y="121.0" width="1" height="1.3" fill-opacity="0.62"/>
<rect x="292.22" y="113.2" width="2.5" height="7.8" fill-opacity="1"/>
<rect x="297" y="115.3" width="1" height="5.7" fill-opacity="0.62"/>
<rect x="297" y="137.5" width="1" height="0.5" fill-opacity="0.62"/>
<rect x="295.96" y="121.0" width="2.5" height="16.5" fill-opacity="1"/>
<rect x="300" y="128.0" width="2" height="11.4" fill-opacity="1" fill="#fff"/>
<rect x="300" y="127.5" width="2" height="0.5" fill-opacity="0.3"/>
<rect x="300" y="139.4" width="2" height="3.1" fill-opacity="0.3"/>
<rect x="299" y="128.0" width="4" height="11.4" fill-opacity="0.2"/>
<rect x="299" y="128.0" width="1" height="11.4" fill-opacity="0.1"/>
<rect x="302" y="128.0" width="1" height="11.4" fill-opacity="0.1"/>
<rect x="300" y="128.0" width="2" height="0.9" fill-opacity="0.5"/>
<rect x="300" y="138.5" width="2" height="0.9" fill-opacity="0.5"/>
<rect x="304" y="122.3" width="1" height="17.1" fill-opacity="0.62"/>
<rect x="303" y="127.5" width="3" height="1.0" fill-opacity="0.8"/>
<rect x="308" y="119.7" width="1" height="10.2" fill-opacity="1" fill="#fff"/>
<rect x="308" y="118.5" width="1" height="1.2" fill-opacity="0.62"/>
<rect x="308" y="129.9" width="1" height="4.4" fill-opacity="0.62"/>
<rect x="307" y="119.7" width="1" height="10.2" fill-opacity="0.68"/>
<rect x="309" y="119.7" width="1" height="10.2" fill-opacity="0.68"/>
<rect x="308" y="119.7" width="1" height="0.9" fill-opacity="0.68"/>
<rect x="308" y="129.0" width="1" height="0.9" fill-opacity="0.68"/>
<rect x="312" y="118.5" width="1" height="1.2" fill-opacity="0.62"/>
<rect x="312" y="134.3" width="1" height="21.2" fill-opacity="0.62"/>
<rect x="310.94" y="119.7" width="2.5" height="14.6" fill-opacity="1"/>
<rect x="315" y="131.1" width="2" height="3.2" fill-opacity="0.3"/>
<rect x="315" y="141.9" width="2" height="5.4" fill-opacity="0.3"/>
<rect x="314.69" y="134.3" width="2.5" height="7.6" fill-opacity="1"/>
<rect x="319" y="136.8" width="1" height="7.6" fill-opacity="1" fill="#fff"/>
<rect x="319" y="130.5" width="1" height="6.3" fill-opacity="0.62"/>
<rect x="319" y="144.4" width="1" height="2.9" fill-opacity="0.62"/>
<rect x="318" y="136.8" width="1" height="7.6" fill-opacity="0.68"/>
<rect x="320" y="136.8" width="1" height="7.6" fill-opacity="0.68"/>
<rect x="319" y="136.8" width="1" height="0.9" fill-opacity="0.68"/>
<rect x="319" y="143.5" width="1" height="0.9" fill-opacity="0.68"/>
<rect x="323" y="127.3" width="1" height="9.5" fill-opacity="0.62"/>
<rect x="323" y="146.4" width="1" height="0.6" fill-opacity="0.62"/>
<rect x="322.18" y="136.8" width="2.5" height="9.6" fill-opacity="1"/>
<rect x="326" y="142.7" width="2" height="3.8" fill-opacity="0.3"/>
<rect x="326" y="191.4" width="2" height="2.6" fill-opacity="0.3"/>
<rect x="325.92" y="146.5" width="2.5" height="44.9" fill-opacity="1"/>
<rect x="330" y="171.8" width="2" height="19.6" fill-opacity="1" fill="#fff"/>
<rect x="330" y="171.0" width="2" height="0.8" fill-opacity="0.3"/>
<rect x="330" y="191.4" width="2" height="9.5" fill-opacity="0.3"/>
<rect x="329" y="171.8" width="4" height="19.6" fill-opacity="0.2"/>
<rect x="329" y="171.8" width="1" height="19.6" fill-opacity="0.1"/>
<rect x="332" y="171.8" width="1" height="19.6" fill-opacity="0.1"/>
<rect x="330" y="171.8" width="2" height="0.9" fill-opacity="0.5"/>
<rect x="330" y="190.5" width="2" height="0.9" fill-opacity="0.5"/>
<rect x="334" y="166.0" width="1" height="7.7" fill-opacity="1" fill="#fff"/>
<rect x="334" y="162.3" width="1" height="3.7" fill-opacity="0.62"/>
<rect x="334" y="173.7" width="1" height="10.1" fill-opacity="0.62"/>
<rect x="333" y="166.0" width="1" height="7.7" fill-opacity="0.68"/>
<rect x="335" y="166.0" width="1" height="7.7" fill-opacity="0.68"/>
<rect x="334" y="166.0" width="1" height="0.9" fill-opacity="0.68"/>
<rect x="334" y="172.8" width="1" height="0.9" fill-opacity="0.68"/>
<rect x="338" y="164.2" width="1" height="10.1" fill-opacity="1" fill="#fff"/>
<rect x="338" y="162.3" width="1" height="1.9" fill-opacity="0.62"/>
<rect x="338" y="174.3" width="1" height="1.9" fill-opacity="0.62"/>
<rect x="337" y="164.2" width="1" height="10.1" fill-opacity="0.68"/>
<rect x="339" y="164.2" width="1" height="10.1" fill-opacity="0.68"/>
<rect x="338" y="164.2" width="1" height="0.9" fill-opacity="0.68"/>
<rect x="338" y="173.4" width="1" height="0.9" fill-opacity="0.68"/>
<rect x="341" y="157.2" width="2" height="7.0" fill-opacity="1" fill="#fff"/>
<rect x="341" y="151.5" width="2" height="5.7" fill-opacity="0.3"/>
<rect x="341" y="164.2" width="2" height="7.6" fill-opacity="0.3"/>
<rect x="340" y="157.2" width="4" height="7.0" fill-opacity="0.2"/>
<rect x="340" y="157.2" width="1" height="7.0" fill-opacity="0.1"/>
<rect x="343" y="157.2" width="1" height="7.0" fill-opacity="0.1"/>
<rect x="341" y="157.2" width="2" height="0.9" fill-opacity="0.5"/>
<rect x="341" y="163.3" width="2" height="0.9" fill-opacity="0.5"/>
<rect x="345" y="152.8" width="1" height="4.4" fill-opacity="0.62"/>
<rect x="345" y="183.2" width="1" height="9.5" fill-opacity="0.62"/>
<rect x="344.65" y="157.2" width="2.5" height="26.0" fill-opacity="1"/>
<rect x="349" y="181.9" width="1" height="3.8" fill-opacity="0.62"/>
<rect x="349" y="199.0" width="1" height="17.7" fill-opacity="0.62"/>
<rect x="348.39" y="185.7" width="2.5" height="13.3" fill-opacity="1"/>
<rect x="353" y="189.5" width="1" height="10.8" fill-opacity="1" fill="#fff"/>
<rect x="353" y="186.3" width="1" height="3.2" fill-opacity="0.62"/>
<rect x="353" y="200.3" width="1" height="10.1" fill-opacity="0.62"/>
<rect x="352" y="189.5" width="1" height="10.8" fill-opacity="0.68"/>
<rect x="354" y="189.5" width="1" height="10.8" fill-opacity="0.68"/>
<rect x="353" y="189.5" width="1" height="0.9" fill-opacity="0.68"/>
<rect x="353" y="199.4" width="1" height="0.9" fill-opacity="0.68"/>
<rect x="356" y="180.0" width="2" height="18.4" fill-opacity="1" fill="#fff"/>
<rect x="356" y="174.3" width="2" height="5.7" fill-opacity="0.3"/>
<rect x="356" y="198.4" width="2" height="0.6" fill-opacity="0.3"/>
<rect x="355" y="180.0" width="4" height="18.4" fill-opacity="0.2"/>
<rect x="355" y="180.0" width="1" height="18.4" fill-opacity="0.1"/>
<rect x="358" y="180.0" width="1" height="18.4" fill-opacity="0.1"/>
<rect x="356" y="180.0" width="2" height="0.9" fill-opacity="0.5"/>
<rect x="356" y="197.5" width="2" height="0.9" fill-opacity="0.5"/>
<rect x="360" y="173.0" width="1" height="8.3" fill-opacity="0.62"/>
<rect x="360" y="195.2" width="1" height="0.8" fill-opacity="0.62"/>
<rect x="359.62" y="181.3" width="2.5" height="13.9" fill-opacity="1"/>
<rect x="364" y="192.7" width="1" height="3.8" fill-opacity="0.62"/>
<rect x="364" y="216.0" width="1" height="0.7" fill-opacity="0.62"/>
<rect x="363.37" y="196.5" width="2.5" height="19.5" fill-opacity="1"/>
<rect x="368" y="213.0" width="1" height="3.0" fill-opacity="0.62"/>
<rect x="368" y="238.2" width="1" height="0.6" fill-opacity="0.62"/>
<rect x="367.12" y="216.0" width="2.5" height="22.2" fill-opacity="1"/>
<rect x="371" y="235.0" width="2" height="3.9" fill-opacity="0.3"/>
<rect x="371" y="304.0" width="2" height="1.3" fill-opacity="0.3"/>
<rect x="370.86" y="238.9" width="2.5" height="65.1" fill-opacity="1"/>
<rect x="375" y="296.5" width="1" height="15.8" fill-opacity="0.62"/>
<rect x="375" y="333.8" width="1" height="34.2" fill-opacity="0.62"/>
<rect x="374.61" y="312.3" width="2.5" height="21.5" fill-opacity="1"/>
<rect x="379" y="306.0" width="1" height="23.4" fill-opacity="0.62"/>
<rect x="379" y="333.2" width="1" height="3.8" fill-opacity="0.62"/>
<rect x="378.35" y="329.4" width="2.5" height="3.8" fill-opacity="1"/>
<rect x="383" y="287.6" width="1" height="48.1" fill-opacity="1" fill="#fff"/>
<rect x="383" y="266.0" width="1" height="21.6" fill-opacity="0.62"/>
<rect x="383" y="335.7" width="1" height="3.8" fill-opacity="0.62"/>
<rect x="382" y="287.6" width="1" height="48.1" fill-opacity="0.68"/>
<rect x="384" y="287.6" width="1" height="48.1" fill-opacity="0.68"/>
<rect x="383" y="287.6" width="1" height="0.9" fill-opacity="0.68"/>
<rect x="383" y="334.8" width="1" height="0.9" fill-opacity="0.68"/>
<rect x="386" y="265.4" width="2" height="19.0" fill-opacity="1" fill="#fff"/>
<rect x="386" y="261.0" width="2" height="4.4" fill-opacity="0.3"/>
<rect x="386" y="284.4" width="2" height="27.2" fill-opacity="0.3"/>
<rect x="385" y="265.4" width="4" height="19.0" fill-opacity="0.2"/>
<rect x="385" y="265.4" width="1" height="19.0" fill-opacity="0.1"/>
<rect x="388" y="265.4" width="1" height="19.0" fill-opacity="0.1"/>
<rect x="386" y="265.4" width="2" height="0.9" fill-opacity="0.5"/>
<rect x="386" y="283.5" width="2" height="0.9" fill-opacity="0.5"/>
<rect x="390" y="262.3" width="1" height="4.4" fill-opacity="0.62"/>
<rect x="390" y="270.5" width="1" height="9.5" fill-opacity="0.62"/>
<rect x="389.59" y="266.7" width="2.5" height="3.8" fill-opacity="1"/>
<rect x="394" y="272.4" width="1" height="6.3" fill-opacity="1" fill="#fff"/>
<rect x="394" y="244.6" width="1" height="27.8" fill-opacity="0.62"/>
<rect x="394" y="278.7" width="1" height="0.6" fill-opacity="0.62"/>
<rect x="393" y="272.4" width="1" height="6.3" fill-opacity="0.68"/>
<rect x="395" y="272.4" width="1" height="6.3" fill-opacity="0.68"/>
<rect x="394" y="272.4" width="1" height="0.9" fill-opacity="0.68"/>
<rect x="394" y="277.8" width="1" height="0.9" fill-opacity="0.68"/>
<rect x="398" y="259.1" width="1" height="19.0" fill-opacity="0.62"/>
<rect x="397" y="271.9" width="3" height="1.0" fill-opacity="0.8"/>
<rect x="401" y="271.8" width="2" height="2.5" fill-opacity="1" fill="#fff"/>
<rect x="401" y="266.7" width="2" height="5.1" fill-opacity="0.3"/>
<rect x="401" y="274.3" width="2" height="12.0" fill-opacity="0.3"/>
<rect x="400" y="271.8" width="4" height="2.5" fill-opacity="0.2"/>
<rect x="400" y="271.8" width="1" height="2.5" fill-opacity="0.1"/>
<rect x="403" y="271.8" width="1" height="2.5" fill-opacity="0.1"/>
<rect x="401" y="271.8" width="2" height="0.9" fill-opacity="0.5"/>
<rect x="401" y="273.4" width="2" height="0.9" fill-opacity="0.5"/>
<rect x="405" y="238.2" width="1" height="34.2" fill-opacity="1" fill="#fff"/>
<rect x="405" y="229.1" width="1" height="9.1" fill-opacity="0.62"/>
<rect x="405" y="272.4" width="1" height="5.1" fill-opacity="0.62"/>
<rect x="404" y="238.2" width="1" height="34.2" fill-opacity="0.68"/>
<rect x="406" y="238.2" width="1" height="34.2" fill-opacity="0.68"/>
<rect x="405" y="238.2" width="1" height="0.9" fill-opacity="0.68"/>
<rect x="405" y="271.5" width="1" height="0.9" fill-opacity="0.68"/>
<rect x="409" y="237.5" width="1" height="0.7" fill-opacity="0.62"/>
<rect x="409" y="267.3" width="1" height="0.7" fill-opacity="0.62"/>
<rect x="408.31" y="238.2" width="2.5" height="29.1" fill-opacity="1"/>
<rect x="413" y="260.4" width="1" height="19.0" fill-opacity="0.62"/>
<rect x="413" y="281.9" width="1" height="3.8" fill-opacity="0.62"/>
<rect x="412.06" y="279.4" width="2.5" height="2.5" fill-opacity="1"/>
<rect x="416" y="280.0" width="2" height="3.2" fill-opacity="0.3"/>
<rect x="416" y="321.1" width="2" height="0.5" fill-opacity="0.3"/>
<rect x="415.8" y="283.2" width="2.5" height="37.9" fill-opacity="1"/>
<rect x="420" y="311.0" width="1" height="10.1" fill-opacity="0.62"/>
<rect x="420" y="330.6" width="1" height="9.4" fill-opacity="0.62"/>
<rect x="419.55" y="321.1" width="2.5" height="9.5" fill-opacity="1"/>
<rect x="424" y="328.1" width="1" height="4.4" fill-opacity="1" fill="#fff"/>
<rect x="424" y="323.0" width="1" height="5.1" fill-opacity="0.62"/>
<rect x="424" y="332.5" width="1" height="10.2" fill-opacity="0.62"/>
<rect x="423" y="328.1" width="1" height="4.4" fill-opacity="0.68"/>
<rect x="425" y="328.1" width="1" height="4.4" fill-opacity="0.68"/>
<rect x="424" y="328.1" width="1" height="0.9" fill-opacity="0.68"/>
<rect x="424" y="331.6" width="1" height="0.9" fill-opacity="0.68"/>
<rect x="428" y="319.2" width="1" height="10.8" fill-opacity="0.62"/>
<rect x="428" y="347.7" width="1" height="2.6" fill-opacity="0.62"/>
<rect x="427.04" y="330.0" width="2.5" height="17.7" fill-opacity="1"/>
<rect x="431" y="350.3" width="2" height="2.5" fill-opacity="1" fill="#fff"/>
<rect x="431" y="344.0" width="2" height="6.3" fill-opacity="0.3"/>
<rect x="431" y="352.8" width="2" height="5.7" fill-opacity="0.3"/>
<rect x="430" y="350.3" width="4" height="2.5" fill-opacity="0.2"/>
<rect x="430" y="350.3" width="1" height="2.5" fill-opacity="0.1"/>
<rect x="433" y="350.3" width="1" height="2.5" fill-opacity="0.1"/>
<rect x="431" y="350.3" width="2" height="0.9" fill-opacity="0.5"/>
<rect x="431" y="351.9" width="2" height="0.9" fill-opacity="0.5"/>
<rect x="435" y="344.6" width="1" height="6.9" fill-opacity="0.62"/>
<rect x="435" y="375.6" width="1" height="2.5" fill-opacity="0.62"/>
<rect x="434.53" y="351.5" width="2.5" height="24.1" fill-opacity="1"/>
<rect x="439" y="373.0" width="1" height="2.6" fill-opacity="1" fill="#fff"/>
<rect x="439" y="359.1" width="1" height="13.9" fill-opacity="0.62"/>
<rect x="439" y="375.6" width="1" height="2.4" fill-opacity="0.62"/>
<rect x="438" y="373.0" width="1" height="2.6" fill-opacity="0.68"/>
<rect x="440" y="373.0" width="1" height="2.6" fill-opacity="0.68"/>
<rect x="439" y="373.0" width="1" height="0.9" fill-opacity="0.68"/>
<rect x="439" y="374.7" width="1" height="0.9" fill-opacity="0.68"/>
<rect x="443" y="350.3" width="1" height="23.4" fill-opacity="1" fill="#fff"/>
<rect x="443" y="340.8" width="1" height="9.5" fill-opacity="0.62"/>
<rect x="443" y="373.7" width="1" height="6.9" fill-opacity="0.62"/>
<rect x="442" y="350.3" width="1" height="23.4" fill-opacity="0.68"/>
<rect x="444" y="350.3" width="1" height="23.4" fill-opacity="0.68"/>
<rect x="443" y="350.3" width="1" height="0.9" fill-opacity="0.68"/>
<rect x="443" y="372.8" width="1" height="0.9" fill-opacity="0.68"/>
<rect x="446" y="337.6" width="2" height="13.3" fill-opacity="1" fill="#fff"/>
<rect x="446" y="333.8" width="2" height="3.8" fill-opacity="0.3"/>
<rect x="446" y="350.9" width="2" height="5.7" fill-opacity="0.3"/>
<rect x="445" y="337.6" width="4" height="13.3" fill-opacity="0.2"/>
<rect x="445" y="337.6" width="1" height="13.3" fill-opacity="0.1"/>
<rect x="448" y="337.6" width="1" height="13.3" fill-opacity="0.1"/>
<rect x="446" y="337.6" width="2" height="0.9" fill-opacity="0.5"/>
<rect x="446" y="350.0" width="2" height="0.9" fill-opacity="0.5"/>
<rect x="450" y="333.2" width="1" height="10.1" fill-opacity="1" fill="#fff"/>
<rect x="450" y="321.1" width="1" height="12.1" fill-opacity="0.62"/>
<rect x="450" y="343.3" width="1" height="1.3" fill-opacity="0.62"/>
<rect x="449" y="333.2" width="1" height="10.1" fill-opacity="0.68"/>
<rect x="451" y="333.2" width="1" height="10.1" fill-opacity="0.68"/>
<rect x="450" y="333.2" width="1" height="0.9" fill-opacity="0.68"/>
<rect x="450" y="342.4" width="1" height="0.9" fill-opacity="0.68"/>
<rect x="454" y="321.1" width="1" height="12.1" fill-opacity="0.62"/>
<rect x="454" y="337.3" width="1" height="10.4" fill-opacity="0.62"/>
<rect x="453.25" y="333.2" width="2.5" height="4.1" fill-opacity="1"/>
<rect x="458" y="329.4" width="1" height="9.5" fill-opacity="0.62"/>
<rect x="458" y="354.0" width="1" height="0.6" fill-opacity="0.62"/>
<rect x="457" y="338.9" width="2.5" height="15.1" fill-opacity="1"/>
<rect x="461" y="342.0" width="2" height="8.9" fill-opacity="0.3"/>
<rect x="461" y="364.8" width="2" height="2.5" fill-opacity="0.3"/>
<rect x="460.74" y="350.9" width="2.5" height="13.9" fill-opacity="1"/>
<rect x="465" y="348.4" width="1" height="17.6" fill-opacity="0.62"/>
<rect x="465" y="368.5" width="1" height="24.7" fill-opacity="0.62"/>
<rect x="464.49" y="366.0" width="2.5" height="2.5" fill-opacity="1"/>
<rect x="469" y="341.3" width="1" height="28.5" fill-opacity="1" fill="#f9e5e5"/>
<rect x="469" y="340.5" width="1" height="0.8" fill-opacity="0.62"/>
<rect x="469" y="369.8" width="1" height="2.5" fill-opacity="0.62"/>
<rect x="468" y="341.3" width="1" height="28.5" fill-opacity="0.68"/>
<rect x="470" y="341.3" width="1" height="28.5" fill-opacity="0.68"/>
<rect x="469" y="341.3" width="1" height="0.9" fill-opacity="0.68"/>
<rect x="469" y="368.9" width="1" height="0.9" fill-opacity="0.68"/>
<rect x="473" y="338.1" width="1" height="4.1" fill-opacity="0.62"/>
<rect x="473" y="352.0" width="1" height="4.8" fill-opacity="0.62"/>
<rect x="471.98" y="342.2" width="2.5" height="9.8" fill-opacity="1"/>
<rect x="476" y="328.5" width="2" height="25.3" fill-opacity="1" fill="#f9e5e5"/>
<rect x="476" y="324.7" width="2" height="3.8" fill-opacity="0.3"/>
<rect x="476" y="353.8" width="2" height="19.0" fill-opacity="0.3"/>
<rect x="475" y="328.5" width="4" height="25.3" fill-opacity="0.2"/>
<rect x="475" y="328.5" width="1" height="25.3" fill-opacity="0.1"/>
<rect x="478" y="328.5" width="1" height="25.3" fill-opacity="0.1"/>
<rect x="476" y="328.5" width="2" height="0.9" fill-opacity="0.5"/>
<rect x="476" y="352.9" width="2" height="0.9" fill-opacity="0.5"/>
<rect x="480" y="316.5" width="1" height="13.9" fill-opacity="0.62"/>
<rect x="480" y="333.5" width="1" height="5.7" fill-opacity="0.62"/>
<rect x="479.47" y="330.4" width="2.5" height="3.1" fill-opacity="1"/>
<rect x="484" y="327.2" width="1" height="0.9" fill-opacity="0.62"/>
<rect x="484" y="340.5" width="1" height="22.2" fill-opacity="0.62"/>
<rect x="483.21" y="328.1" width="2.5" height="12.4" fill-opacity="1"/>
<rect x="488" y="344.3" width="1" height="12.0" fill-opacity="0.62"/>
<rect x="488" y="361.4" width="1" height="5.1" fill-opacity="0.62"/>
<rect x="486.96" y="356.3" width="2.5" height="5.1" fill-opacity="1"/>
<rect x="491" y="351.3" width="2" height="11.4" fill-opacity="1" fill="#f9e5e5"/>
<rect x="491" y="348.1" width="2" height="3.2" fill-opacity="0.3"/>
<rect x="491" y="362.7" width="2" height="5.0" fill-opacity="0.3"/>
<rect x="490" y="351.3" width="4" height="11.4" fill-opacity="0.2"/>
<rect x="490" y="351.3" width="1" height="11.4" fill-opacity="0.1"/>
<rect x="493" y="351.3" width="1" height="11.4" fill-opacity="0.1"/>
<rect x="491" y="351.3" width="2" height="0.9" fill-opacity="0.5"/>
<rect x="491" y="361.8" width="2" height="0.9" fill-opacity="0.5"/>
<rect x="495" y="346.8" width="1" height="5.1" fill-opacity="0.62"/>
<rect x="495" y="355.7" width="1" height="29.7" fill-opacity="0.62"/>
<rect x="494.45" y="351.9" width="2.5" height="3.8" fill-opacity="1"/>
<rect x="499" y="348.1" width="1" height="8.9" fill-opacity="1" fill="#f9e5e5"/>
<rect x="499" y="331.0" width="1" height="17.1" fill-opacity="0.62"/>
<rect x="499" y="357.0" width="1" height="3.1" fill-opacity="0.62"/>
<rect x="498" y="348.1" width="1" height="8.9" fill-opacity="0.68"/>
<rect x="500" y="348.1" width="1" height="8.9" fill-opacity="0.68"/>
<rect x="499" y="348.1" width="1" height="0.9" fill-opacity="0.68"/>
<rect x="499" y="356.1" width="1" height="0.9" fill-opacity="0.68"/>
<rect x="503" y="337.3" width="1" height="12.1" fill-opacity="1" fill="#f9e5e5"/>
<rect x="503" y="330.4" width="1" height="6.9" fill-opacity="0.62"/>
<rect x="503" y="349.4" width="1" height="9.5" fill-opacity="0.62"/>
<rect x="502" y="337.3" width="1" height="12.1" fill-opacity="0.68"/>
<rect x="504" y="337.3" width="1" height="12.1" fill-opacity="0.68"/>
<rect x="503" y="337.3" width="1" height="0.9" fill-opacity="0.68"/>
<rect x="503" y="348.5" width="1" height="0.9" fill-opacity="0.68"/>
<rect x="506" y="330.4" width="2" height="12.0" fill-opacity="0.3"/>
<rect x="506" y="349.4" width="2" height="7.6" fill-opacity="0.3"/>
<rect x="505.68" y="342.4" width="2.5" height="7.0" fill-opacity="1"/>
<rect x="510" y="342.4" width="1" height="7.6" fill-opacity="0.62"/>
<rect x="510" y="367.7" width="1" height="0.6" fill-opacity="0.62"/>
<rect x="509.43" y="350.0" width="2.5" height="17.7" fill-opacity="1"/>
<rect x="514" y="336.1" width="1" height="32.9" fill-opacity="1" fill="#f9e5e5"/>
<rect x="514" y="334.8" width="1" height="1.3" fill-opacity="0.62"/>
<rect x="514" y="369.0" width="1" height="5.7" fill-opacity="0.62"/>
<rect x="513" y="336.1" width="1" height="32.9" fill-opacity="0.68"/>
<rect x="515" y="336.1" width="1" height="32.9" fill-opacity="0.68"/>
<rect x="514" y="336.1" width="1" height="0.9" fill-opacity="0.68"/>
<rect x="514" y="368.1" width="1" height="0.9" fill-opacity="0.68"/>
<rect x="517" y="331.0" width="2" height="7.0" fill-opacity="0.3"/>
<rect x="517" y="355.7" width="2" height="2.5" fill-opacity="0.3"/>
<rect x="516.91" y="338.0" width="2.5" height="17.7" fill-opacity="1"/>
<rect x="521" y="340.5" width="2" height="14.5" fill-opacity="0.3"/>
<rect x="521" y="379.7" width="2" height="0.6" fill-opacity="0.3"/>
<rect x="520.66" y="355.0" width="2.5" height="24.7" fill-opacity="1"/>
<rect x="525" y="358.2" width="1" height="20.9" fill-opacity="1" fill="#f9e5e5"/>
<rect x="525" y="350.0" width="1" height="8.2" fill-opacity="0.62"/>
<rect x="525" y="379.1" width="1" height="1.9" fill-opacity="0.62"/>
<rect x="524" y="358.2" width="1" height="20.9" fill-opacity="0.68"/>
<rect x="526" y="358.2" width="1" height="20.9" fill-opacity="0.68"/>
<rect x="525" y="358.2" width="1" height="0.9" fill-opacity="0.68"/>
<rect x="525" y="378.2" width="1" height="0.9" fill-opacity="0.68"/>
<rect x="529" y="354.4" width="1" height="5.1" fill-opacity="1" fill="#f9e5e5"/>
<rect x="529" y="344.3" width="1" height="10.1" fill-opacity="0.62"/>
<rect x="529" y="359.5" width="1" height="7.0" fill-opacity="0.62"/>
<rect x="528" y="354.4" width="1" height="5.1" fill-opacity="0.68"/>
<rect x="530" y="354.4" width="1" height="5.1" fill-opacity="0.68"/>
<rect x="529" y="354.4" width="1" height="0.9" fill-opacity="0.68"/>
<rect x="529" y="358.6" width="1" height="0.9" fill-opacity="0.68"/>
<rect x="532" y="340.5" width="2" height="13.9" fill-opacity="1" fill="#f9e5e5"/>
<rect x="532" y="334.2" width="2" height="6.3" fill-opacity="0.3"/>
<rect x="532" y="354.4" width="2" height="8.9" fill-opacity="0.3"/>
<rect x="531" y="340.5" width="4" height="13.9" fill-opacity="0.2"/>
<rect x="531" y="340.5" width="1" height="13.9" fill-opacity="0.1"/>
<rect x="534" y="340.5" width="1" height="13.9" fill-opacity="0.1"/>
<rect x="532" y="340.5" width="2" height="0.9" fill-opacity="0.5"/>
<rect x="532" y="353.5" width="2" height="0.9" fill-opacity="0.5"/>
<rect x="536" y="327.2" width="1" height="13.9" fill-opacity="1" fill="#f9e5e5"/>
<rect x="536" y="319.0" width="1" height="8.2" fill-opacity="0.62"/>
<rect x="536" y="341.1" width="1" height="4.5" fill-opacity="0.62"/>
<rect x="535" y="327.2" width="1" height="13.9" fill-opacity="0.68"/>
<rect x="537" y="327.2" width="1" height="13.9" fill-opacity="0.68"/>
<rect x="536" y="327.2" width="1" height="0.9" fill-opacity="0.68"/>
<rect x="536" y="340.2" width="1" height="0.9" fill-opacity="0.68"/>
<rect x="540" y="302.4" width="1" height="24.8" fill-opacity="1" fill="#f9e5e5"/>
<rect x="540" y="290.4" width="1" height="12.0" fill-opacity="0.62"/>
<rect x="540" y="327.2" width="1" height="10.1" fill-opacity="0.62"/>
<rect x="539" y="302.4" width="1" height="24.8" fill-opacity="0.68"/>
<rect x="541" y="302.4" width="1" height="24.8" fill-opacity="0.68"/>
<rect x="540" y="302.4" width="1" height="0.9" fill-opacity="0.68"/>
<rect x="540" y="326.3" width="1" height="0.9" fill-opacity="0.68"/>
<rect x="544" y="296.7" width="1" height="8.9" fill-opacity="0.62"/>
<rect x="544" y="322.8" width="1" height="0.6" fill-opacity="0.62"/>
<rect x="543.13" y="305.6" width="2.5" height="17.2" fill-opacity="1"/>
<rect x="547" y="307.8" width="2" height="9.3" fill-opacity="1" fill="#f9e5e5"/>
<rect x="547" y="300.7" width="2" height="7.1" fill-opacity="0.3"/>
<rect x="547" y="317.1" width="2" height="7.2" fill-opacity="0.3"/>
<rect x="546" y="307.8" width="4" height="9.3" fill-opacity="0.2"/>
<rect x="546" y="307.8" width="1" height="9.3" fill-opacity="0.1"/>
<rect x="549" y="307.8" width="1" height="9.3" fill-opacity="0.1"/>
<rect x="547" y="307.8" width="2" height="0.9" fill-opacity="0.5"/>
<rect x="547" y="316.2" width="2" height="0.9" fill-opacity="0.5"/>
<rect x="551" y="294.8" width="1" height="13.3" fill-opacity="1" fill="#f9e5e5"/>
<rect x="551" y="287.8" width="1" height="7.0" fill-opacity="0.62"/>
<rect x="551" y="308.1" width="1" height="3.9" fill-opacity="0.62"/>
<rect x="550" y="294.8" width="1" height="13.3" fill-opacity="0.68"/>
<rect x="552" y="294.8" width="1" height="13.3" fill-opacity="0.68"/>
<rect x="551" y="294.8" width="1" height="0.9" fill-opacity="0.68"/>
<rect x="551" y="307.2" width="1" height="0.9" fill-opacity="0.68"/>
<rect x="555" y="288.5" width="1" height="6.9" fill-opacity="0.62"/>
<rect x="555" y="307.5" width="1" height="5.1" fill-opacity="0.62"/>
<rect x="554.36" y="295.4" width="2.5" height="12.1" fill-opacity="1"/>
<rect x="559" y="305.6" width="1" height="8.9" fill-opacity="1" fill="#f9e5e5"/>
<rect x="559" y="301.1" width="1" height="4.5" fill-opacity="0.62"/>
<rect x="559" y="314.5" width="1" height="0.5" fill-opacity="0.62"/>
<rect x="558" y="305.6" width="1" height="8.9" fill-opacity="0.68"/>
<rect x="560" y="305.6" width="1" height="8.9" fill-opacity="0.68"/>
<rect x="559" y="305.6" width="1" height="0.9" fill-opacity="0.68"/>
<rect x="559" y="313.6" width="1" height="0.9" fill-opacity="0.68"/>
<rect x="562" y="284.7" width="2" height="26.6" fill-opacity="1" fill="#f9e5e5"/>
<rect x="562" y="279.0" width="2" height="5.7" fill-opacity="0.3"/>
<rect x="562" y="311.3" width="2" height="0.7" fill-opacity="0.3"/>
<rect x="561" y="284.7" width="4" height="26.6" fill-opacity="0.2"/>
<rect x="561" y="284.7" width="1" height="26.6" fill-opacity="0.1"/>
<rect x="564" y="284.7" width="1" height="26.6" fill-opacity="0.1"/>
<rect x="562" y="284.7" width="2" height="0.9" fill-opacity="0.5"/>
<rect x="562" y="310.4" width="2" height="0.9" fill-opacity="0.5"/>
<rect x="566" y="281.5" width="1" height="0.7" fill-opacity="0.62"/>
<rect x="566" y="291.6" width="1" height="0.7" fill-opacity="0.62"/>
<rect x="565.6" y="282.2" width="2.5" height="9.4" fill-opacity="1"/>
<rect x="570" y="270.8" width="1" height="19.6" fill-opacity="1" fill="#f9e5e5"/>
<rect x="570" y="269.5" width="1" height="1.3" fill-opacity="0.62"/>
<rect x="570" y="290.4" width="1" height="5.7" fill-opacity="0.62"/>
<rect x="569" y="270.8" width="1" height="19.6" fill-opacity="0.68"/>
<rect x="571" y="270.8" width="1" height="19.6" fill-opacity="0.68"/>
<rect x="570" y="270.8" width="1" height="0.9" fill-opacity="0.68"/>
<rect x="570" y="289.5" width="1" height="0.9" fill-opacity="0.68"/>
<rect x="574" y="267.6" width="1" height="4.4" fill-opacity="1" fill="#f9e5e5"/>
<rect x="574" y="265.1" width="1" height="2.5" fill-opacity="0.62"/>
<rect x="574" y="272.0" width="1" height="10.8" fill-opacity="0.62"/>
<rect x="573" y="267.6" width="1" height="4.4" fill-opacity="0.68"/>
<rect x="575" y="267.6" width="1" height="4.4" fill-opacity="0.68"/>
<rect x="574" y="267.6" width="1" height="0.9" fill-opacity="0.68"/>
<rect x="574" y="271.1" width="1" height="0.9" fill-opacity="0.68"/>
<rect x="577" y="264.4" width="2" height="4.5" fill-opacity="0.3"/>
<rect x="577" y="273.3" width="2" height="0.6" fill-opacity="0.3"/>
<rect x="576.83" y="268.9" width="2.5" height="4.4" fill-opacity="1"/>
<rect x="581" y="268.2" width="1" height="13.3" fill-opacity="1" fill="#f9e5e5"/>
<rect x="581" y="265.7" width="1" height="2.5" fill-opacity="0.62"/>
<rect x="581" y="281.5" width="1" height="0.6" fill-opacity="0.62"/>
<rect x="580" y="268.2" width="1" height="13.3" fill-opacity="0.68"/>
<rect x="582" y="268.2" width="1" height="13.3" fill-opacity="0.68"/>
<rect x="581" y="268.2" width="1" height="0.9" fill-opacity="0.68"/>
<rect x="581" y="280.6" width="1" height="0.9" fill-opacity="0.68"/>
<rect x="585" y="266.3" width="1" height="9.5" fill-opacity="0.62"/>
<rect x="584" y="269.0" width="3" height="1.0" fill-opacity="0.8"/>
<rect x="589" y="267.6" width="1" height="7.0" fill-opacity="1" fill="#f9e5e5"/>
<rect x="589" y="255.0" width="1" height="12.6" fill-opacity="0.62"/>
<rect x="589" y="274.6" width="1" height="4.4" fill-opacity="0.62"/>
<rect x="588" y="267.6" width="1" height="7.0" fill-opacity="0.68"/>
<rect x="590" y="267.6" width="1" height="7.0" fill-opacity="0.68"/>
<rect x="589" y="267.6" width="1" height="0.9" fill-opacity="0.68"/>
<rect x="589" y="273.7" width="1" height="0.9" fill-opacity="0.68"/>
<rect x="592" y="268.9" width="2" height="2.5" fill-opacity="1" fill="#f9e5e5"/>
<rect x="592" y="262.5" width="2" height="6.4" fill-opacity="0.3"/>
<rect x="592" y="271.4" width="2" height="0.6" fill-opacity="0.3"/>
<rect x="591" y="268.9" width="4" height="2.5" fill-opacity="0.2"/>
<rect x="591" y="268.9" width="1" height="2.5" fill-opacity="0.1"/>
<rect x="594" y="268.9" width="1" height="2.5" fill-opacity="0.1"/>
<rect x="592" y="268.9" width="2" height="0.9" fill-opacity="0.5"/>
<rect x="592" y="270.5" width="2" height="0.9" fill-opacity="0.5"/>
<rect x="596" y="263.8" width="1" height="7.0" fill-opacity="1" fill="#f9e5e5"/>
<rect x="596" y="261.3" width="1" height="2.5" fill-opacity="0.62"/>
<rect x="596" y="270.8" width="1" height="3.1" fill-opacity="0.62"/>
<rect x="595" y="263.8" width="1" height="7.0" fill-opacity="0.68"/>
<rect x="597" y="263.8" width="1" height="7.0" fill-opacity="0.68"/>
<rect x="596" y="263.8" width="1" height="0.9" fill-opacity="0.68"/>
<rect x="596" y="269.9" width="1" height="0.9" fill-opacity="0.68"/>
<rect x="600" y="250.0" width="1" height="11.3" fill-opacity="0.62"/>
<rect x="600" y="272.0" width="1" height="1.3" fill-opacity="0.62"/>
<rect x="599.3" y="261.3" width="2.5" height="10.7" fill-opacity="1"/>
<rect x="604" y="261.9" width="1" height="9.5" fill-opacity="1" fill="#f9e5e5"/>
<rect x="604" y="250.0" width="1" height="11.9" fill-opacity="0.62"/>
<rect x="604" y="271.4" width="1" height="3.2" fill-opacity="0.62"/>
<rect x="603" y="261.9" width="1" height="9.5" fill-opacity="0.68"/>
<rect x="605" y="261.9" width="1" height="9.5" fill-opacity="0.68"/>
<rect x="604" y="261.9" width="1" height="0.9" fill-opacity="0.68"/>
<rect x="604" y="270.5" width="1" height="0.9" fill-opacity="0.68"/>
<rect x="607" y="252.5" width="2" height="9.4" fill-opacity="0.3"/>
<rect x="607" y="265.7" width="2" height="4.4" fill-opacity="0.3"/>
<rect x="606.79" y="261.9" width="2.5" height="3.8" fill-opacity="1"/>
<rect x="611" y="264.5" width="1" height="0.6" fill-opacity="0.62"/>
<rect x="611" y="277.7" width="1" height="3.2" fill-opacity="0.62"/>
<rect x="610.54" y="265.1" width="2.5" height="12.6" fill-opacity="1"/>
<rect x="615" y="250.6" width="1" height="27.1" fill-opacity="1" fill="#f9e5e5"/>
<rect x="615" y="241.8" width="1" height="8.8" fill-opacity="0.62"/>
<rect x="615" y="277.7" width="1" height="2.6" fill-opacity="0.62"/>
<rect x="614" y="250.6" width="1" height="27.1" fill-opacity="0.68"/>
<rect x="616" y="250.6" width="1" height="27.1" fill-opacity="0.68"/>
<rect x="615" y="250.6" width="1" height="0.9" fill-opacity="0.68"/>
<rect x="615" y="276.8" width="1" height="0.9" fill-opacity="0.68"/>
<rect x="619" y="258.0" width="1" height="3.9" fill-opacity="0.62"/>
<rect x="619" y="280.9" width="1" height="3.1" fill-opacity="0.62"/>
<rect x="618.03" y="261.9" width="2.5" height="19.0" fill-opacity="1"/>
<rect x="622" y="278.4" width="2" height="2.5" fill-opacity="1" fill="#f9e5e5"/>
<rect x="622" y="272.7" width="2" height="5.7" fill-opacity="0.3"/>
<rect x="622" y="280.9" width="2" height="6.3" fill-opacity="0.3"/>
<rect x="621" y="278.4" width="4" height="2.5" fill-opacity="0.2"/>
<rect x="621" y="278.4" width="1" height="2.5" fill-opacity="0.1"/>
<rect x="624" y="278.4" width="1" height="2.5" fill-opacity="0.1"/>
<rect x="622" y="278.4" width="2" height="0.9" fill-opacity="0.5"/>
<rect x="622" y="280.0" width="2" height="0.9" fill-opacity="0.5"/>
<rect x="626" y="224.9" width="1" height="56.0" fill-opacity="1" fill="#f9e5e5"/>
<rect x="626" y="217.7" width="1" height="7.2" fill-opacity="0.62"/>
<rect x="626" y="280.9" width="1" height="4.4" fill-opacity="0.62"/>
<rect x="625" y="224.9" width="1" height="56.0" fill-opacity="0.68"/>
<rect x="627" y="224.9" width="1" height="56.0" fill-opacity="0.68"/>
<rect x="626" y="224.9" width="1" height="0.9" fill-opacity="0.68"/>
<rect x="626" y="280.0" width="1" height="0.9" fill-opacity="0.68"/>
<rect x="630" y="217.6" width="1" height="8.2" fill-opacity="0.62"/>
<rect x="630" y="241.8" width="1" height="3.8" fill-opacity="0.62"/>
<rect x="629.26" y="225.8" width="2.5" height="16.0" fill-opacity="1"/>
<rect x="634" y="223.6" width="1" height="19.4" fill-opacity="1" fill="#f9e5e5"/>
<rect x="634" y="219.2" width="1" height="4.4" fill-opacity="0.62"/>
<rect x="634" y="243.0" width="1" height="7.0" fill-opacity="0.62"/>
<rect x="633" y="223.6" width="1" height="19.4" fill-opacity="0.68"/>
<rect x="635" y="223.6" width="1" height="19.4" fill-opacity="0.68"/>
<rect x="634" y="223.6" width="1" height="0.9" fill-opacity="0.68"/>
<rect x="634" y="242.1" width="1" height="0.9" fill-opacity="0.68"/>
<rect x="637" y="206.5" width="2" height="19.7" fill-opacity="1" fill="#f9e5e5"/>
<rect x="637" y="204.0" width="2" height="2.5" fill-opacity="0.3"/>
<rect x="637" y="226.2" width="2" height="2.3" fill-opacity="0.3"/>
<rect x="636" y="206.5" width="4" height="19.7" fill-opacity="0.2"/>
<rect x="636" y="206.5" width="1" height="19.7" fill-opacity="0.1"/>
<rect x="639" y="206.5" width="1" height="19.7" fill-opacity="0.1"/>
<rect x="637" y="206.5" width="2" height="0.9" fill-opacity="0.5"/>
<rect x="637" y="225.3" width="2" height="0.9" fill-opacity="0.5"/>
<rect x="641" y="201.0" width="1" height="5.7" fill-opacity="1" fill="#f9e5e5"/>
<rect x="641" y="190.3" width="1" height="10.7" fill-opacity="0.62"/>
<rect x="641" y="206.7" width="1" height="0.6" fill-opacity="0.62"/>
<rect x="640" y="201.0" width="1" height="5.7" fill-opacity="0.68"/>
<rect x="642" y="201.0" width="1" height="5.7" fill-opacity="0.68"/>
<rect x="641" y="201.0" width="1" height="0.9" fill-opacity="0.68"/>
<rect x="641" y="205.8" width="1" height="0.9" fill-opacity="0.68"/>
<rect x="645" y="185.2" width="1" height="17.1" fill-opacity="1" fill="#f9e5e5"/>
<rect x="645" y="178.0" width="1" height="7.2" fill-opacity="0.62"/>
<rect x="645" y="202.3" width="1" height="4.4" fill-opacity="0.62"/>
<rect x="644" y="185.2" width="1" height="17.1" fill-opacity="0.68"/>
<rect x="646" y="185.2" width="1" height="17.1" fill-opacity="0.68"/>
<rect x="645" y="185.2" width="1" height="0.9" fill-opacity="0.68"/>
<rect x="645" y="201.4" width="1" height="0.9" fill-opacity="0.68"/>
<rect x="649" y="163.7" width="1" height="13.9" fill-opacity="1" fill="#f9e5e5"/>
<rect x="649" y="154.2" width="1" height="9.5" fill-opacity="0.62"/>
<rect x="649" y="177.6" width="1" height="6.4" fill-opacity="0.62"/>
<rect x="648" y="163.7" width="1" height="13.9" fill-opacity="0.68"/>
<rect x="650" y="163.7" width="1" height="13.9" fill-opacity="0.68"/>
<rect x="649" y="163.7" width="1" height="0.9" fill-opacity="0.68"/>
<rect x="649" y="176.7" width="1" height="0.9" fill-opacity="0.68"/>
<rect x="652" y="158.6" width="2" height="5.7" fill-opacity="0.3"/>
<rect x="652" y="170.0" width="2" height="5.0" fill-opacity="0.3"/>
<rect x="651.73" y="164.3" width="2.5" height="5.7" fill-opacity="1"/>
<rect x="656" y="167.5" width="1" height="6.3" fill-opacity="0.62"/>
<rect x="656" y="196.6" width="1" height="0.6" fill-opacity="0.62"/>
<rect x="655.48" y="173.8" width="2.5" height="22.8" fill-opacity="1"/>
<rect x="660" y="186.5" width="1" height="2.5" fill-opacity="0.62"/>
<rect x="660" y="199.1" width="1" height="7.0" fill-opacity="0.62"/>
<rect x="659.22" y="189.0" width="2.5" height="10.1" fill-opacity="1"/>
<rect x="664" y="189.0" width="1" height="9.5" fill-opacity="1" fill="#f9e5e5"/>
<rect x="664" y="180.0" width="1" height="9.0" fill-opacity="0.62"/>
<rect x="664" y="198.5" width="1" height="0.5" fill-opacity="0.62"/>
<rect x="663" y="189.0" width="1" height="9.5" fill-opacity="0.68"/>
<rect x="665" y="189.0" width="1" height="9.5" fill-opacity="0.68"/>
<rect x="664" y="189.0" width="1" height="0.9" fill-opacity="0.68"/>
<rect x="664" y="197.6" width="1" height="0.9" fill-opacity="0.68"/>
<rect x="667" y="179.5" width="2" height="10.8" fill-opacity="1" fill="#f9e5e5"/>
<rect x="667" y="175.0" width="2" height="4.5" fill-opacity="0.3"/>
<rect x="667" y="190.3" width="2" height="6.3" fill-opacity="0.3"/>
<rect x="666" y="179.5" width="4" height="10.8" fill-opacity="0.2"/>
<rect x="666" y="179.5" width="1" height="10.8" fill-opacity="0.1"/>
<rect x="669" y="179.5" width="1" height="10.8" fill-opacity="0.1"/>
<rect x="667" y="179.5" width="2" height="0.9" fill-opacity="0.5"/>
<rect x="667" y="189.4" width="2" height="0.9" fill-opacity="0.5"/>
<rect x="671" y="140.9" width="1" height="38.6" fill-opacity="1" fill="#f9e5e5"/>
<rect x="671" y="140.3" width="1" height="0.6" fill-opacity="0.62"/>
<rect x="671" y="179.5" width="1" height="4.5" fill-opacity="0.62"/>
<rect x="670" y="140.9" width="1" height="38.6" fill-opacity="0.68"/>
<rect x="672" y="140.9" width="1" height="38.6" fill-opacity="0.68"/>
<rect x="671" y="140.9" width="1" height="0.9" fill-opacity="0.68"/>
<rect x="671" y="178.6" width="1" height="0.9" fill-opacity="0.68"/>
</g>
<path d="M0.0,201.0 L10.0,195.0 L20.0,182.3 L30.4,170.9 L38.0,163.3 L46.8,150.6 L54.4,140.5 L63.3,127.8 L70.9,115.2 L76.0,106.3 L81.0,97.0 L86.0,88.6 L96.2,81.0 L106.3,76.0 L114.0,72.0 L121.5,68.4 L129.0,67.0 L136.7,66.6 L144.3,68.4 L152.0,72.0 L159.5,74.7 L167.0,76.0 L177.2,75.4 L187.3,75.2 L195.0,77.2 L202.5,81.0 L210.0,84.8 L216.5,90.0 L225.3,95.0 L233.0,100.0 L239.2,106.5 L244.3,112.8 L248.0,119.0 L253.2,126.7 L258.2,133.0 L263.3,139.4 L268.4,144.4 L273.4,147.6 L278.5,148.9 L283.5,146.3 L288.6,141.9 L293.7,140.0 L301.3,140.6 L307.6,138.7 L314.0,136.2 L320.3,134.9 L328.0,134.0 L332.8,135.7 L341.6,137.6 L348.0,142.7 L354.3,149.0 L360.6,155.3 L364.4,160.4 L368.2,165.4 L370.8,170.5 L373.3,178.1 L375.8,185.7 L377.0,187.6 L380.9,197.7 L386.0,207.8 L391.0,216.7 L396.0,225.6 L399.9,231.9 L405.7,236.3 L410.8,243.9 L415.8,252.8 L420.9,262.9 L426.0,273.0 L429.7,281.9 L432.3,287.6 L436.0,296.5 L439.9,304.0 L443.7,309.1 L448.7,310.4 L455.0,310.4 L460.0,315.4 L466.3,325.3 L474.0,331.6 L479.0,336.7 L484.0,343.0 L489.1,346.8 L495.4,348.7 L503.0,348.7 L510.6,349.4 L518.2,350.0 L525.8,351.3 L530.9,351.3 L536.0,349.4 L542.3,345.6 L548.6,342.4 L555.0,339.9 L561.3,336.7 L567.6,330.4 L574.0,324.0 L580.3,316.5 L585.8,310.6 L593.4,301.8 L601.0,292.3 L608.6,283.4 L613.7,279.6 L621.3,275.2 L627.6,271.4 L634.0,265.0 L640.3,260.0 L646.0,250.6 L653.7,241.8 L661.3,232.9 L668.2,226.6" stroke="#666" stroke-width="0.7" stroke-dasharray="2.2 1.6" fill="none"/>
<path d="M0.0,176.0 L5.0,171.0 L8.9,167.0 L12.7,154.4 L17.7,140.5 L22.8,122.0 L27.2,100.0 L31.6,90.6 L38.0,72.9 L41.8,63.4 L46.2,59.0 L53.2,54.9 L57.0,53.7 L61.4,55.8 L65.2,52.7 L69.0,49.5 L73.4,45.7 L79.7,45.3 L83.5,50.8 L87.3,48.9 L93.7,47.8 L98.7,45.1 L101.3,43.0 L107.6,39.2 L112.7,38.0 L115.2,34.2 L118.4,31.0 L121.5,30.4 L124.7,33.2 L128.0,35.2 L131.8,36.7 L135.6,38.4 L141.9,38.0 L147.0,39.2 L154.6,39.5 L157.7,38.2 L163.4,38.6 L168.5,39.5 L173.6,40.5 L178.6,38.4 L183.7,38.2 L188.1,37.1 L190.0,39.2 L192.6,43.0 L196.4,45.3 L200.2,44.3 L203.3,44.1 L205.8,40.5 L208.4,34.8 L210.9,29.7 L215.3,25.9 L218.5,22.4 L225.5,22.4 L228.0,23.4 L236.9,23.2 L239.4,24.1 L243.8,26.8 L248.3,29.7 L251.4,34.8 L254.6,43.0 L256.0,48.1 L261.0,65.8 L266.0,86.0 L271.2,103.8 L278.3,111.4 L282.6,105.0 L287.6,97.5 L292.7,94.4 L304.0,93.7 L309.2,91.1 L319.3,91.1 L323.0,96.2 L332.0,93.7 L343.3,91.9 L349.7,88.6 L353.5,89.1 L357.3,95.0 L361.0,101.3 L364.9,103.3 L367.9,102.5 L371.2,89.9 L376.3,76.0 L379.5,73.4 L382.6,77.2 L387.6,88.6 L394.0,103.8 L400.3,119.0 L408.0,135.4 L415.5,155.7 L423.0,170.9 L430.7,190.0 L437.0,212.7 L443.3,229.9 L454.7,230.4 L461.0,235.4 L468.7,248.0 L476.2,262.0 L480.0,278.5 L483.8,296.2 L486.0,306.3 L487.2,312.7 L490.4,317.7 L495.4,321.5 L499.9,324.0 L504.3,323.4 L518.2,323.4 L521.4,322.5 L525.8,325.3 L529.6,326.6 L533.4,325.3 L536.6,322.8 L538.5,317.7 L542.3,312.0 L546.0,307.5 L551.6,299.2 L558.0,293.5 L560.5,289.1 L563.0,282.8 L566.8,276.5 L570.6,267.6 L574.4,260.0 L579.0,249.4 L584.2,241.8 L590.4,237.3 L593.5,236.5 L601.8,240.5 L611.3,246.2 L615.0,242.4 L618.2,245.6 L622.7,248.1 L625.8,240.5 L630.9,236.0 L634.7,233.0 L638.5,219.0 L640.6,211.8 L645.7,195.3 L649.5,178.0 L653.3,166.8 L658.4,159.2 L663.4,152.9 L667.8,148.5" stroke="#f23030" stroke-width="0.8" fill="none" stroke-linejoin="round"/>
<path d="M0.0,226.6 L8.9,228.4 L12.7,238.0 L19.0,244.3 L25.3,249.9 L32.9,251.4 L41.8,252.4 L45.6,248.1 L50.6,235.4 L57.0,215.2 L63.3,200.0 L68.4,188.6 L76.0,165.8 L81.0,150.0 L83.5,140.6 L88.6,130.5 L94.9,124.8 L101.3,122.9 L107.6,117.2 L113.3,112.0 L117.4,114.2 L121.0,109.4 L125.3,101.8 L130.4,99.2 L136.0,93.5 L141.8,96.7 L146.8,100.5 L151.9,102.4 L155.7,105.0 L158.2,108.7 L162.0,111.3 L169.6,111.6 L176.0,111.9 L181.0,113.2 L188.0,113.2 L191.1,110.0 L195.6,108.5 L198.7,110.6 L202.5,114.5 L205.7,120.4 L207.6,126.7 L210.1,138.1 L215.2,150.1 L219.0,160.9 L223.4,167.2 L229.1,172.9 L234.2,179.2 L239.2,188.1 L243.7,197.0 L247.5,205.0 L251.0,211.0 L254.5,213.0 L258.0,211.5 L261.0,208.9 L265.0,203.0 L267.4,198.7 L269.0,191.9 L272.2,188.1 L278.5,185.6 L283.5,188.7 L289.9,189.4 L293.7,187.5 L305.0,186.8 L312.7,184.9 L316.3,183.5 L319.5,180.0 L322.7,173.7 L325.8,171.8 L329.0,173.0 L333.4,177.5 L337.8,180.0 L341.6,182.5 L344.2,185.7 L346.7,191.0 L349.2,197.7 L353.0,203.4 L357.5,207.2 L360.6,210.4 L363.2,214.8 L365.0,220.5 L367.0,226.8 L368.2,234.4 L369.5,240.0 L370.9,249.0 L372.8,268.0 L374.7,283.2 L376.0,292.7 L377.8,305.3 L380.4,318.0 L383.5,326.8 L388.0,333.2 L390.5,336.3 L396.8,342.0 L401.9,346.5 L407.0,346.2 L412.0,347.0 L415.8,350.3 L419.6,356.6 L423.4,364.2 L427.2,369.9 L431.6,373.0 L434.2,376.8 L436.7,380.6 L438.6,383.2 L442.4,387.0 L448.4,389.5 L456.0,396.2 L461.0,400.5 L465.0,403.8 L472.7,404.4 L476.5,402.0 L479.0,394.3 L481.5,388.0 L484.0,381.6 L487.2,377.8 L491.6,376.6 L506.8,376.2 L510.6,374.0 L513.8,370.9 L517.0,371.5 L520.1,374.7 L523.3,376.6 L530.9,376.8 L536.0,376.3 L541.0,377.8 L547.3,380.4 L551.1,383.5 L556.2,384.8 L563.8,385.7 L574.0,386.3 L579.0,386.0 L582.2,384.2 L584.7,379.0 L588.0,376.0 L590.5,374.7 L594.3,367.0 L598.0,354.4 L603.0,338.0 L608.2,324.0 L612.0,317.2 L614.9,316.0 L617.5,310.6 L622.5,304.3 L626.3,307.5 L630.1,303.0 L634.6,299.9 L637.7,303.0 L641.5,304.0 L644.7,308.0 L648.0,313.2 L652.5,316.5 L657.6,313.9 L664.0,307.6 L667.7,303.8" stroke="#f23030" stroke-width="0.8" fill="none" stroke-linejoin="round"/>
<path d="M1.5,176.3L4.2,179.5H2.3V181.7H0.7V179.5H-1.2Z" fill="#1e861e"/>
<path d="M12.5,152.7L15.2,155.9H13.3V158.1H11.7V155.9H9.8Z" fill="#1e861e"/>
<path d="M207.5,123.2L210.2,120.0H208.3V117.8H206.7V120.0H204.8Z" fill="#8e1212"/>
<path d="M218.5,161.7L221.2,158.5H219.3V156.3H217.7V158.5H215.8Z" fill="#8e1212"/>
<path d="M327.5,171.9L330.2,168.7H328.3V166.5H326.7V168.7H324.8Z" fill="#8e1212"/>
<path d="M349.5,197.7L352.2,194.5H350.3V192.3H348.7V194.5H346.8Z" fill="#8e1212"/>
<path d="M368.5,228.9L371.2,225.7H369.3V223.5H367.7V225.7H365.8Z" fill="#8e1212"/>
<path d="M521.5,376.1L524.2,372.9H522.3V370.7H520.7V372.9H518.8Z" fill="#8e1212"/>
<path d="M540.5,314.6L543.2,317.8H541.3V320.0H539.7V317.8H537.8Z" fill="#1e861e"/>
<path d="M551.5,299.1L554.2,302.3H552.3V304.5H550.7V302.3H548.8Z" fill="#1e861e"/>
<path d="M626.5,238.4L629.2,241.6H627.3V243.8H625.7V241.6H623.8Z" fill="#1e861e"/>
<path d="M634.5,230.8L637.2,234.0H635.3V236.2H633.7V234.0H631.8Z" fill="#1e861e"/>
<line x1="121.3" y1="19.5" x2="466.1" y2="393.2" stroke="#222" stroke-width="0.8"/>
<circle cx="663.4" cy="162" r="19.6" fill="#ff0000" fill-opacity="0.13" stroke="#ff1010" stroke-width="1.3"/>
<g font-size="10.6" fill="#111" text-anchor="middle">
<text x="121" y="3.6">(3)</text>
<text x="120.9" y="16.6">5</text>
<text x="46.2" y="60.6">(3)</text>
<text x="46.2" y="73">5</text>
<text x="27.7" y="83.7">3</text>
<clipPath id="c1_1"><rect x="67" y="37.7" width="18" height="10.20"/><rect x="75.55" y="47.7" width="1.25" height="1.2"/><rect x="67" y="47.7" width="6.2" height="4"/><rect x="78.80" y="47.7" width="6.2" height="4"/></clipPath>
<text x="76" y="48.7" clip-path="url(#c1_1)">1</text>
<text x="106" y="46.2">3</text>
<text x="113.3" y="89.4">4</text>
<text x="38.6" y="128">4</text>
<text x="57.3" y="130.6">(4)</text>
<text x="91.5" y="123.5">2</text>
<clipPath id="c1_2"><rect x="153" y="122.4" width="18" height="10.20"/><rect x="161.55" y="132.4" width="1.25" height="1.2"/><rect x="153" y="132.4" width="6.2" height="4"/><rect x="164.80" y="132.4" width="6.2" height="4"/></clipPath>
<text x="162" y="133.4" clip-path="url(#c1_2)">1</text>
<text x="177.5" y="46">2</text>
<text x="229.4" y="119">4</text>
<text x="222.5" y="180.5">3</text>
<text x="252" y="207.6">5</text>
<text x="252.4" y="219.8">(A)</text>
<text x="259.8" y="139.4">A</text>
<text x="267.3" y="166">B</text>
<text x="289.5" y="80.6">(B)</text>
<text x="289.4" y="93.2">C</text>
<text x="361.3" y="169.9">2</text>
<clipPath id="c1_3"><rect x="340.4" y="214.8" width="18" height="10.20"/><rect x="348.95" y="224.8" width="1.25" height="1.2"/><rect x="340.4" y="224.8" width="6.2" height="4"/><rect x="352.20" y="224.8" width="6.2" height="4"/></clipPath>
<text x="349.4" y="225.8" clip-path="url(#c1_3)">1</text>
<text x="454.6" y="318.4">4</text>
<text x="443" y="391.4">3</text>
<text x="465.4" y="402.5">5</text>
<text x="465.6" y="415.2" clip-path="url(#clipMain)">(C)</text>
<clipPath id="c1_4"><rect x="471.6" y="302.6" width="18" height="10.20"/><rect x="480.15" y="312.6" width="1.25" height="1.2"/><rect x="471.6" y="312.6" width="6.2" height="4"/><rect x="483.40" y="312.6" width="6.2" height="4"/></clipPath>
<text x="480.6" y="313.6" clip-path="url(#c1_4)">(1)</text>
<text x="506.8" y="326.8">B</text>
<text x="495.8" y="396.2">A</text>
<text x="525.2" y="392.4">C</text>
<text x="525.6" y="404.8">(2)</text>
<text x="559.4" y="324.7">2</text>
<clipPath id="c1_5"><rect x="546.8" y="273" width="18" height="10.20"/><rect x="555.35" y="283" width="1.25" height="1.2"/><rect x="546.8" y="283" width="6.2" height="4"/><rect x="558.60" y="283" width="6.2" height="4"/></clipPath>
<text x="555.8" y="284" clip-path="url(#c1_5)">1</text>
<text x="630.6" y="214.2">3</text>
<text x="634" y="259.5">4</text>
<text x="660.6" y="216">(4)</text>
<text x="649.4" y="138.6">(3)</text>
<text x="649.4" y="151.6">5</text>
</g>
<line x1="1" y1="118" x2="993.5" y2="118" stroke="#ff0000" stroke-width="1.7"/>
<line x1="1" y1="161.2" x2="993.5" y2="161.2" stroke="#ff0000" stroke-width="1.7"/>
<line x1="1" y1="381.7" x2="993.5" y2="381.7" stroke="#000" stroke-width="1.6"/>
<rect x="691.40" y="15.84" width="45.20" height="8.1" rx="2.2" ry="2.2" fill="#fff" stroke="#de7070" stroke-width="0.9"/>
<text x="692.80" y="21.99" font-size="6.2" fill="#111" stroke="#111" stroke-width="0.08" textLength="42.5" lengthAdjust="spacingAndGlyphs">100.0%(0.92235)</text>
<rect x="694.30" y="95.77" width="42.30" height="8.1" rx="2.2" ry="2.2" fill="#fff" stroke="#de7070" stroke-width="0.9"/>
<text x="695.70" y="101.92" font-size="6.2" fill="#111" stroke="#111" stroke-width="0.08" textLength="39.6" lengthAdjust="spacingAndGlyphs">78.6%(0.90415)</text>
<rect x="694.30" y="158.49" width="42.30" height="8.1" rx="2.2" ry="2.2" fill="#fff" stroke="#de7070" stroke-width="0.9"/>
<text x="695.70" y="164.64" font-size="6.2" fill="#111" stroke="#111" stroke-width="0.08" textLength="39.6" lengthAdjust="spacingAndGlyphs">61.8%(0.88987)</text>
<rect x="694.30" y="202.54" width="42.30" height="8.1" rx="2.2" ry="2.2" fill="#fff" stroke="#de7070" stroke-width="0.9"/>
<text x="695.70" y="208.69" font-size="6.2" fill="#111" stroke="#111" stroke-width="0.08" textLength="39.6" lengthAdjust="spacingAndGlyphs">50.0%(0.87984)</text>
<rect x="694.30" y="246.64" width="42.30" height="8.1" rx="2.2" ry="2.2" fill="#fff" stroke="#de7070" stroke-width="0.9"/>
<text x="695.70" y="252.79" font-size="6.2" fill="#111" stroke="#111" stroke-width="0.08" textLength="39.6" lengthAdjust="spacingAndGlyphs">38.2%(0.86980)</text>
<rect x="694.30" y="301.14" width="42.30" height="8.1" rx="2.2" ry="2.2" fill="#fff" stroke="#de7070" stroke-width="0.9"/>
<text x="695.70" y="307.29" font-size="6.2" fill="#111" stroke="#111" stroke-width="0.08" textLength="39.6" lengthAdjust="spacingAndGlyphs">23.6%(0.85739)</text>
<rect x="697.30" y="389.29" width="39.30" height="8.1" rx="2.2" ry="2.2" fill="#fff" stroke="#de7070" stroke-width="0.9"/>
<text x="698.70" y="395.44" font-size="6.2" fill="#111" stroke="#111" stroke-width="0.08" textLength="36.6" lengthAdjust="spacingAndGlyphs">0.0%(0.83732)</text>
<line x1="522.6" y1="317.7" x2="719" y2="121.4" stroke="#0a0aff" stroke-width="2" stroke-linecap="butt"/>
<line x1="523.4" y1="381.5" x2="719" y2="185.9" stroke="#0a0aff" stroke-width="2" stroke-linecap="butt"/>
<line x1="672" y1="140.3" x2="676.6" y2="123.6" stroke="#111" stroke-width="0.8"/>
<path d="M678.5,117 L679.1,124.6 L674.0,123.2 Z" fill="#000"/>
<rect x="927" y="0.8" width="64.3" height="63.8" fill="#f0272d"/>
<text x="959.6" y="34.3" font-family='"Liberation Serif", "Times New Roman", serif' font-size="19.4" text-anchor="middle" fill="#fff" stroke="#fff" stroke-width="0.55" textLength="45.4" lengthAdjust="spacingAndGlyphs">FxPro</text>
<text x="959.6" y="42.6" font-size="6.3" text-anchor="middle" fill="#fff" textLength="45" lengthAdjust="spacingAndGlyphs">Trade Like a Pro</text>
<rect x="0" y="0" width="1024" height="0.9" fill="#555"/>
<rect x="0" y="0" width="1.1" height="474" fill="#555"/>
<rect x="1023" y="0" width="1" height="474" fill="#555"/>
<rect x="0" y="472.8" width="1024" height="1.2" fill="#444"/>
<rect x="0" y="411.1" width="993.6" height="2.0" fill="#000"/>
<rect x="0" y="415.0" width="996.5" height="0.95" fill="#808080"/>
<rect x="0" y="425" width="1024" height="0.8" fill="#555"/>
<rect x="993.2" y="1" width="0.7" height="412" fill="#bbb"/>
<rect x="996.2" y="1" width="0.8" height="415" fill="#333"/>
<rect x="996.2" y="426" width="0.8" height="47" fill="#333"/>
<g stroke="#000" stroke-opacity="0.6" stroke-width="0.85">
<line x1="994.3" y1="407.50" x2="996.5" y2="407.50"/>
<line x1="992.6" y1="403.50" x2="996.5" y2="403.50"/>
<line x1="994.3" y1="399.50" x2="996.5" y2="399.50"/>
<line x1="994.3" y1="394.50" x2="996.5" y2="394.50"/>
<line x1="994.3" y1="390.50" x2="996.5" y2="390.50"/>
<line x1="994.3" y1="385.50" x2="996.5" y2="385.50"/>
<line x1="992.6" y1="381.50" x2="996.5" y2="381.50"/>
<line x1="994.3" y1="377.50" x2="996.5" y2="377.50"/>
<line x1="994.3" y1="372.50" x2="996.5" y2="372.50"/>
<line x1="994.3" y1="368.50" x2="996.5" y2="368.50"/>
<line x1="994.3" y1="363.50" x2="996.5" y2="363.50"/>
<line x1="992.6" y1="359.50" x2="996.5" y2="359.50"/>
<line x1="994.3" y1="355.50" x2="996.5" y2="355.50"/>
<line x1="994.3" y1="350.50" x2="996.5" y2="350.50"/>
<line x1="994.3" y1="346.50" x2="996.5" y2="346.50"/>
<line x1="994.3" y1="341.50" x2="996.5" y2="341.50"/>
<line x1="992.6" y1="337.50" x2="996.5" y2="337.50"/>
<line x1="994.3" y1="333.50" x2="996.5" y2="333.50"/>
<line x1="994.3" y1="328.50" x2="996.5" y2="328.50"/>
<line x1="994.3" y1="324.50" x2="996.5" y2="324.50"/>
<line x1="994.3" y1="320.50" x2="996.5" y2="320.50"/>
<line x1="992.6" y1="315.50" x2="996.5" y2="315.50"/>
<line x1="994.3" y1="311.50" x2="996.5" y2="311.50"/>
<line x1="994.3" y1="306.50" x2="996.5" y2="306.50"/>
<line x1="994.3" y1="302.50" x2="996.5" y2="302.50"/>
<line x1="994.3" y1="298.50" x2="996.5" y2="298.50"/>
<line x1="992.6" y1="293.50" x2="996.5" y2="293.50"/>
<line x1="994.3" y1="289.50" x2="996.5" y2="289.50"/>
<line x1="994.3" y1="284.50" x2="996.5" y2="284.50"/>
<line x1="994.3" y1="280.50" x2="996.5" y2="280.50"/>
<line x1="994.3" y1="276.50" x2="996.5" y2="276.50"/>
<line x1="992.6" y1="271.50" x2="996.5" y2="271.50"/>
<line x1="994.3" y1="267.50" x2="996.5" y2="267.50"/>
<line x1="994.3" y1="262.50" x2="996.5" y2="262.50"/>
<line x1="994.3" y1="258.50" x2="996.5" y2="258.50"/>
<line x1="994.3" y1="254.50" x2="996.5" y2="254.50"/>
<line x1="992.6" y1="249.50" x2="996.5" y2="249.50"/>
<line x1="994.3" y1="245.50" x2="996.5" y2="245.50"/>
<line x1="994.3" y1="240.50" x2="996.5" y2="240.50"/>
<line x1="994.3" y1="236.50" x2="996.5" y2="236.50"/>
<line x1="994.3" y1="232.50" x2="996.5" y2="232.50"/>
<line x1="992.6" y1="227.50" x2="996.5" y2="227.50"/>
<line x1="994.3" y1="223.50" x2="996.5" y2="223.50"/>
<line x1="994.3" y1="219.50" x2="996.5" y2="219.50"/>
<line x1="994.3" y1="214.50" x2="996.5" y2="214.50"/>
<line x1="994.3" y1="210.50" x2="996.5" y2="210.50"/>
<line x1="992.6" y1="205.50" x2="996.5" y2="205.50"/>
<line x1="994.3" y1="201.50" x2="996.5" y2="201.50"/>
<line x1="994.3" y1="197.50" x2="996.5" y2="197.50"/>
<line x1="994.3" y1="192.50" x2="996.5" y2="192.50"/>
<line x1="994.3" y1="188.50" x2="996.5" y2="188.50"/>
<line x1="992.6" y1="183.50" x2="996.5" y2="183.50"/>
<line x1="994.3" y1="179.50" x2="996.5" y2="179.50"/>
<line x1="994.3" y1="175.50" x2="996.5" y2="175.50"/>
<line x1="994.3" y1="170.50" x2="996.5" y2="170.50"/>
<line x1="994.3" y1="166.50" x2="996.5" y2="166.50"/>
<line x1="992.6" y1="161.50" x2="996.5" y2="161.50"/>
<line x1="994.3" y1="157.50" x2="996.5" y2="157.50"/>
<line x1="994.3" y1="153.50" x2="996.5" y2="153.50"/>
<line x1="994.3" y1="148.50" x2="996.5" y2="148.50"/>
<line x1="994.3" y1="144.50" x2="996.5" y2="144.50"/>
<line x1="992.6" y1="139.50" x2="996.5" y2="139.50"/>
<line x1="994.3" y1="135.50" x2="996.5" y2="135.50"/>
<line x1="994.3" y1="131.50" x2="996.5" y2="131.50"/>
<line x1="994.3" y1="126.50" x2="996.5" y2="126.50"/>
<line x1="994.3" y1="122.50" x2="996.5" y2="122.50"/>
<line x1="992.6" y1="118.50" x2="996.5" y2="118.50"/>
<line x1="994.3" y1="113.50" x2="996.5" y2="113.50"/>
<line x1="994.3" y1="109.50" x2="996.5" y2="109.50"/>
<line x1="994.3" y1="104.50" x2="996.5" y2="104.50"/>
<line x1="994.3" y1="100.50" x2="996.5" y2="100.50"/>
<line x1="992.6" y1="96.50" x2="996.5" y2="96.50"/>
<line x1="994.3" y1="91.50" x2="996.5" y2="91.50"/>
<line x1="994.3" y1="87.50" x2="996.5" y2="87.50"/>
<line x1="994.3" y1="82.50" x2="996.5" y2="82.50"/>
<line x1="994.3" y1="78.50" x2="996.5" y2="78.50"/>
<line x1="992.6" y1="74.50" x2="996.5" y2="74.50"/>
<line x1="994.3" y1="69.50" x2="996.5" y2="69.50"/>
<line x1="994.3" y1="65.50" x2="996.5" y2="65.50"/>
<line x1="994.3" y1="60.50" x2="996.5" y2="60.50"/>
<line x1="994.3" y1="56.50" x2="996.5" y2="56.50"/>
<line x1="992.6" y1="52.50" x2="996.5" y2="52.50"/>
<line x1="994.3" y1="47.50" x2="996.5" y2="47.50"/>
<line x1="994.3" y1="43.50" x2="996.5" y2="43.50"/>
<line x1="994.3" y1="38.50" x2="996.5" y2="38.50"/>
<line x1="994.3" y1="34.50" x2="996.5" y2="34.50"/>
<line x1="992.6" y1="30.50" x2="996.5" y2="30.50"/>
<line x1="994.3" y1="25.50" x2="996.5" y2="25.50"/>
<line x1="994.3" y1="21.50" x2="996.5" y2="21.50"/>
<line x1="994.3" y1="16.50" x2="996.5" y2="16.50"/>
<line x1="994.3" y1="12.50" x2="996.5" y2="12.50"/>
<line x1="992.6" y1="8.50" x2="996.5" y2="8.50"/>
<line x1="994.3" y1="3.50" x2="996.5" y2="3.50"/>
</g>
<g font-size="7.1" fill="#222">
<text x="998" y="406.08" textLength="24.6" lengthAdjust="spacingAndGlyphs">0.83500</text>
<text x="998" y="384.12" textLength="24.6" lengthAdjust="spacingAndGlyphs">0.84000</text>
<text x="998" y="362.16" textLength="24.6" lengthAdjust="spacingAndGlyphs">0.84500</text>
<text x="998" y="340.20" textLength="24.6" lengthAdjust="spacingAndGlyphs">0.85000</text>
<text x="998" y="318.24" textLength="24.6" lengthAdjust="spacingAndGlyphs">0.85500</text>
<text x="998" y="296.28" textLength="24.6" lengthAdjust="spacingAndGlyphs">0.86000</text>
<text x="998" y="274.32" textLength="24.6" lengthAdjust="spacingAndGlyphs">0.86500</text>
<text x="998" y="252.36" textLength="24.6" lengthAdjust="spacingAndGlyphs">0.87000</text>
<text x="998" y="230.40" textLength="24.6" lengthAdjust="spacingAndGlyphs">0.87500</text>
<text x="998" y="208.44" textLength="24.6" lengthAdjust="spacingAndGlyphs">0.88000</text>
<text x="998" y="164.52" textLength="24.6" lengthAdjust="spacingAndGlyphs">0.89000</text>
<text x="998" y="120.60" textLength="24.6" lengthAdjust="spacingAndGlyphs">0.90000</text>
<text x="998" y="98.64" textLength="24.6" lengthAdjust="spacingAndGlyphs">0.90500</text>
<text x="998" y="76.68" textLength="24.6" lengthAdjust="spacingAndGlyphs">0.91000</text>
<text x="998" y="54.72" textLength="24.6" lengthAdjust="spacingAndGlyphs">0.91500</text>
<text x="998" y="32.76" textLength="24.6" lengthAdjust="spacingAndGlyphs">0.92000</text>
<text x="998" y="10.80" textLength="24.6" lengthAdjust="spacingAndGlyphs">0.92500</text>
</g>
<g><path d="M993.8,140.80 L996.6,136.60 L1023.0,136.60 L1023.0,145.00 L996.6,145.00 Z" fill="#fff" stroke="#888" stroke-width="0.9"/>
<text x="998.1" y="143.40" font-size="7.1" fill="#111" textLength="23.8" lengthAdjust="spacingAndGlyphs">0.89475</text></g>
<g><path d="M993.8,183.70 L996.6,179.50 L1023.0,179.50 L1023.0,187.90 L996.6,187.90 Z" fill="#f8c6c6" stroke="#d9a0a0" stroke-width="0.9"/>
<text x="998.1" y="186.30" font-size="7.1" fill="#111" textLength="23.8" lengthAdjust="spacingAndGlyphs">0.88503</text></g>
<g stroke="#333" stroke-width="0.8">
<line x1="38.50" y1="413" x2="38.50" y2="415.9"/>
<line x1="76.50" y1="413" x2="76.50" y2="415.9"/>
<line x1="121.50" y1="413" x2="121.50" y2="415.9"/>
<line x1="154.50" y1="413" x2="154.50" y2="415.9"/>
<line x1="207.50" y1="413" x2="207.50" y2="415.9"/>
<line x1="244.50" y1="413" x2="244.50" y2="415.9"/>
<line x1="282.50" y1="413" x2="282.50" y2="415.9"/>
<line x1="319.50" y1="413" x2="319.50" y2="415.9"/>
<line x1="368.50" y1="413" x2="368.50" y2="415.9"/>
<line x1="402.50" y1="413" x2="402.50" y2="415.9"/>
<line x1="450.50" y1="413" x2="450.50" y2="415.9"/>
<line x1="488.50" y1="413" x2="488.50" y2="415.9"/>
<line x1="529.50" y1="413" x2="529.50" y2="415.9"/>
<line x1="563.50" y1="413" x2="563.50" y2="415.9"/>
<line x1="615.50" y1="413" x2="615.50" y2="415.9"/>
<line x1="649.50" y1="413" x2="649.50" y2="415.9"/>
<line x1="705.50" y1="413" x2="705.50" y2="415.9"/>
<line x1="739.50" y1="413" x2="739.50" y2="415.9"/>
<line x1="765.50" y1="413" x2="765.50" y2="415.9"/>
<line x1="821.50" y1="413" x2="821.50" y2="415.9"/>
<line x1="855.50" y1="413" x2="855.50" y2="415.9"/>
<line x1="881.50" y1="413" x2="881.50" y2="415.9"/>
<line x1="937.50" y1="413" x2="937.50" y2="415.9"/>
<line x1="971.50" y1="413" x2="971.50" y2="415.9"/>
</g>
<g font-size="6.5" fill="#222" text-anchor="middle">
<text x="38.05" y="423.0">Apr-2024</text>
<text x="75.51" y="423.0">Apr-14</text>
<text x="120.45" y="423.0">May-2024</text>
<text x="154.15" y="423.0">May-14</text>
<text x="206.58" y="423.0">Jun-2024</text>
<text x="244.03" y="423.0">Jun-16</text>
<text x="281.48" y="423.0">Jul-2024</text>
<text x="318.93" y="423.0">Jul-14</text>
<text x="367.62" y="423.0">Aug-2024</text>
<text x="401.32" y="423.0">Aug-14</text>
<text x="450.01" y="423.0">Sep-2024</text>
<text x="487.46" y="423.0">Sep-15</text>
<text x="528.65" y="423.0">Oct-2024</text>
<text x="562.35" y="423.0">Oct-13</text>
<text x="614.78" y="423.0">Nov-2024</text>
<text x="648.49" y="423.0">Nov-14</text>
<text x="704.66" y="423.0">Dec-2024</text>
<text x="738.37" y="423.0">Dec-10</text>
<text x="764.58" y="423.0">Dec-17</text>
<text x="820.76" y="423.0">Jan-2025</text>
<text x="854.46" y="423.0">Jan-10</text>
<text x="880.68" y="423.0">Jan-17</text>
<text x="936.85" y="423.0">Feb-2025</text>
<text x="970.56" y="423.0">Feb-10</text>
</g>
<line x1="1" y1="435.5" x2="996" y2="435.5" stroke="#000" stroke-opacity="0.58" stroke-width="1.15"/>
<line x1="1" y1="464.4" x2="996" y2="464.4" stroke="#000" stroke-opacity="0.58" stroke-width="1.15"/>
<line x1="1" y1="449.5" x2="996" y2="449.5" stroke="#000" stroke-opacity="0.85" stroke-width="1.05" stroke-dasharray="2.25 1.5"/>
<path d="M3.0,441.9 L4.5,439.5 L6.0,437.7 L7.5,436.4 L9.0,435.6 L10.5,435.2 L12.0,435.0 L13.5,434.7 L15.0,434.4 L16.5,433.8 L18.0,433.2 L19.5,432.4 L21.0,431.6 L22.5,430.8 L24.0,430.1 L25.5,429.5 L27.0,429.2 L28.5,429.1 L30.0,429.2 L31.5,429.4 L33.0,429.8 L34.5,430.1 L36.0,430.3 L37.5,430.4 L39.0,430.4 L40.5,430.2 L42.0,430.2 L43.5,430.2 L45.0,430.5 L46.5,431.0 L48.0,431.7 L49.5,432.6 L51.0,433.6 L52.5,434.6 L54.0,435.3 L55.5,435.8 L57.0,436.1 L58.5,436.1 L60.0,435.9 L61.5,435.5 L63.0,435.0 L64.5,434.7 L66.0,434.6 L67.5,434.5 L69.0,434.2 L70.5,433.8 L72.0,433.5 L73.5,433.3 L75.0,433.3 L76.5,433.2 L78.0,432.9 L79.5,432.9 L81.0,433.2 L82.5,433.8 L84.0,434.3 L85.5,434.6 L87.0,434.8 L88.5,435.1 L90.0,435.6 L91.5,435.9 L93.0,436.1 L94.5,436.1 L96.0,436.1 L97.5,436.1 L99.0,435.7 L100.5,435.1 L102.0,434.5 L103.5,434.0 L105.0,433.5 L106.5,433.0 L108.0,432.4 L109.5,432.2 L111.0,432.5 L112.5,433.0 L114.0,433.2 L115.5,433.0 L117.0,433.0 L118.5,433.4 L120.0,434.1 L121.5,435.0 L123.0,436.2 L124.5,438.1 L126.0,440.7 L127.5,443.7 L129.0,446.6 L130.5,449.6 L132.0,452.1 L133.5,454.1 L135.0,455.5 L136.5,456.5 L138.0,457.1 L139.5,457.6 L141.0,457.9 L142.5,458.2 L144.0,458.4 L145.5,458.5 L147.0,458.6 L148.5,458.7 L150.0,458.8 L151.5,458.9 L153.0,459.2 L154.5,459.7 L156.0,460.4 L157.5,461.1 L159.0,461.7 L160.5,462.1 L162.0,462.1 L163.5,461.9 L165.0,461.2 L166.5,460.2 L168.0,458.8 L169.5,457.2 L171.0,455.7 L172.5,454.0 L174.0,451.8 L175.5,449.2 L177.0,446.5 L178.5,443.7 L180.0,440.9 L181.5,438.2 L183.0,435.7 L184.5,433.7 L186.0,432.4 L187.5,431.8 L189.0,431.4 L190.5,431.4 L192.0,431.5 L193.5,431.8 L195.0,432.2 L196.5,433.1 L198.0,434.7 L199.5,436.9 L201.0,439.6 L202.5,442.8 L204.0,446.3 L205.5,450.3 L207.0,454.3 L208.5,457.7 L210.0,460.5 L211.5,462.7 L213.0,464.2 L214.5,465.3 L216.0,466.2 L217.5,466.7 L219.0,466.7 L220.5,466.3 L222.0,465.8 L223.5,465.3 L225.0,464.6 L226.5,463.7 L228.0,462.6 L229.5,461.6 L231.0,461.0 L232.5,460.7 L234.0,460.5 L235.5,460.6 L237.0,461.0 L238.5,461.7 L240.0,462.5 L241.5,463.3 L243.0,464.2 L244.5,465.2 L246.0,466.1 L247.5,467.0 L249.0,467.7 L250.5,468.2 L252.0,468.3 L253.5,467.8 L255.0,466.8 L256.5,465.0 L258.0,462.7 L259.5,460.2 L261.0,457.4 L262.5,454.7 L264.0,452.1 L265.5,449.8 L267.0,447.7 L268.5,445.9 L270.0,444.2 L271.5,442.4 L273.0,440.5 L274.5,438.6 L276.0,436.9 L277.5,435.3 L279.0,433.9 L280.5,432.9 L282.0,432.0 L283.5,431.4 L285.0,431.0 L286.5,430.8 L288.0,430.8 L289.5,431.0 L291.0,431.4 L292.5,432.1 L294.0,433.1 L295.5,434.2 L297.0,435.3 L298.5,436.4 L300.0,437.5 L301.5,438.3 L303.0,439.0 L304.5,439.6 L306.0,440.0 L307.5,440.5 L309.0,441.2 L310.5,442.2 L312.0,443.6 L313.5,445.2 L315.0,447.0 L316.5,449.0 L318.0,451.1 L319.5,453.0 L321.0,454.9 L322.5,456.8 L324.0,458.6 L325.5,460.3 L327.0,461.7 L328.5,462.8 L330.0,463.6 L331.5,464.0 L333.0,464.0 L334.5,463.5 L336.0,462.6 L337.5,461.4 L339.0,460.3 L340.5,459.2 L342.0,458.4 L343.5,458.0 L345.0,457.8 L346.5,458.0 L348.0,458.4 L349.5,458.9 L351.0,459.4 L352.5,459.9 L354.0,460.2 L355.5,460.2 L357.0,460.2 L358.5,460.2 L360.0,460.4 L361.5,460.9 L363.0,461.8 L364.5,463.0 L366.0,464.4 L367.5,465.8 L369.0,467.2 L370.5,468.4 L372.0,469.3 L373.5,469.9 L375.0,470.0 L376.5,469.8 L378.0,469.5 L379.5,468.7 L381.0,467.5 L382.5,465.9 L384.0,464.1 L385.5,462.3 L387.0,460.5 L388.5,458.7 L390.0,457.0 L391.5,455.6 L393.0,454.5 L394.5,453.7 L396.0,453.1 L397.5,452.6 L399.0,452.1 L400.5,451.5 L402.0,450.9 L403.5,450.1 L405.0,449.4 L406.5,448.8 L408.0,448.3 L409.5,447.9 L411.0,447.7 L412.5,447.8 L414.0,448.3 L415.5,449.3 L417.0,450.4 L418.5,451.6 L420.0,452.9 L421.5,454.2 L423.0,455.6 L424.5,456.9 L426.0,458.2 L427.5,459.6 L429.0,460.9 L430.5,462.2 L432.0,463.5 L433.5,464.9 L435.0,466.2 L436.5,467.4 L438.0,468.4 L439.5,468.9 L441.0,469.0 L442.5,468.8 L444.0,468.2 L445.5,467.4 L447.0,466.4 L448.5,465.2 L450.0,463.9 L451.5,462.9 L453.0,462.0 L454.5,461.5 L456.0,461.2 L457.5,461.2 L459.0,461.4 L460.5,461.7 L462.0,462.2 L463.5,462.5 L465.0,462.6 L466.5,462.1 L468.0,461.1 L469.5,459.7 L471.0,458.0 L472.5,455.8 L474.0,453.1 L475.5,450.2 L477.0,447.5 L478.5,445.2 L480.0,443.3 L481.5,441.7 L483.0,440.5 L484.5,440.1 L486.0,440.6 L487.5,441.5 L489.0,442.6 L490.5,443.8 L492.0,445.1 L493.5,446.2 L495.0,446.9 L496.5,447.2 L498.0,447.1 L499.5,446.7 L501.0,446.1 L502.5,445.4 L504.0,444.8 L505.5,444.5 L507.0,444.7 L508.5,445.3 L510.0,445.8 L511.5,446.1 L513.0,446.5 L514.5,446.9 L516.0,447.5 L517.5,448.2 L519.0,449.2 L520.5,450.3 L522.0,451.6 L523.5,453.1 L525.0,454.4 L526.5,455.2 L528.0,455.4 L529.5,454.6 L531.0,452.8 L532.5,450.4 L534.0,448.0 L535.5,445.5 L537.0,443.0 L538.5,440.6 L540.0,438.8 L541.5,437.8 L543.0,437.2 L544.5,436.9 L546.0,436.6 L547.5,436.4 L549.0,436.1 L550.5,435.7 L552.0,435.2 L553.5,434.5 L555.0,433.9 L556.5,433.5 L558.0,433.1 L559.5,432.8 L561.0,432.7 L562.5,432.6 L564.0,432.4 L565.5,432.3 L567.0,431.9 L568.5,431.4 L570.0,430.9 L571.5,430.5 L573.0,430.1 L574.5,429.7 L576.0,429.3 L577.5,428.9 L579.0,428.6 L580.5,428.4 L582.0,428.4 L583.5,428.4 L585.0,428.5 L586.5,428.7 L588.0,429.0 L589.5,429.4 L591.0,429.8 L592.5,430.3 L594.0,430.7 L595.5,431.1 L597.0,431.6 L598.5,432.3 L600.0,433.0 L601.5,433.5 L603.0,434.0 L604.5,434.5 L606.0,435.1 L607.5,435.8 L609.0,436.5 L610.5,437.1 L612.0,437.5 L613.5,437.7 L615.0,438.3 L616.5,439.5 L618.0,441.1 L619.5,442.9 L621.0,445.0 L622.5,446.7 L624.0,447.9 L625.5,448.7 L627.0,449.0 L628.5,448.6 L630.0,447.4 L631.5,445.4 L633.0,442.9 L634.5,440.8 L636.0,439.1 L637.5,437.6 L639.0,436.1 L640.5,434.6 L642.0,433.2 L643.5,432.2 L645.0,431.3 L646.5,430.7 L648.0,430.3 L649.5,430.0 L651.0,429.9 L652.5,430.0 L654.0,430.4 L655.5,431.2 L657.0,432.1 L658.5,433.3 L660.0,434.4 L661.5,435.5 L663.0,436.5 L664.5,437.1 L666.0,437.3 L667.5,437.3 L669.0,437.1 L670.5,436.8" stroke="#c62020" stroke-width="0.85" fill="none" stroke-linejoin="round"/>
<path d="M0.0,439.0 L1.6,436.5 L3.1,435.6 L7.5,435.2 L12.5,434.6 L16.2,433.4 L18.8,430.9 L21.2,429.0 L23.8,428.2 L26.9,428.7 L29.4,429.9 L35.0,431.0 L38.8,430.2 L42.5,429.1 L45.0,430.6 L47.5,433.4 L50.0,435.9 L53.1,437.4 L56.2,436.0 L60.0,435.2 L65.5,433.2 L68.8,435.8 L72.5,431.2 L77.5,433.8 L80.0,433.0 L85.0,436.2 L88.8,435.0 L92.5,437.0 L98.8,435.8 L102.5,431.2 L106.2,433.2 L110.0,430.8 L113.8,436.2 L117.5,431.2 L121.2,435.0 L123.8,441.2 L126.2,448.8 L128.8,453.8 L132.5,457.5 L138.8,457.5 L143.8,459.5 L150.0,458.0 L153.8,460.0 L158.8,465.0 L163.8,460.0 L168.8,455.0 L173.8,450.0 L177.5,437.5 L181.2,432.0 L186.2,430.5 L191.2,432.0 L197.5,433.8 L200.0,443.8 L203.8,455.0 L207.5,463.8 L211.2,467.0 L215.0,465.5 L218.8,468.8 L222.5,463.8 L226.2,461.2 L230.0,459.5 L236.2,461.2 L241.2,465.5 L246.2,468.0 L251.2,470.0 L253.8,467.5 L256.0,462.5 L259.8,451.2 L267.2,445.0 L274.8,433.2 L281.0,431.2 L286.0,429.5 L291.0,432.5 L296.0,437.5 L301.0,440.0 L308.5,440.8 L316.0,453.8 L321.0,457.5 L327.2,467.0 L334.8,461.2 L342.2,455.5 L349.8,461.8 L357.2,458.8 L361.0,461.2 L366.0,468.8 L372.2,471.2 L379.8,467.5 L386.0,456.2 L392.2,453.0 L401.0,450.8 L406.0,446.2 L413.5,448.8 L419.8,456.2 L426.0,460.0 L431.0,466.2 L439.8,471.2 L446.0,463.8 L452.2,460.5 L456.0,460.5 L463.5,464.5 L467.2,461.2 L469.8,453.8 L473.5,450.0 L477.2,440.0 L481.0,438.2 L484.8,440.0 L488.5,446.2 L494.8,448.8 L499.8,445.0 L503.5,442.5 L507.2,445.0 L511.0,451.2 L512.0,447.5 L514.5,445.0 L518.2,448.8 L522.0,458.8 L528.2,455.0 L534.5,440.0 L540.8,434.5 L544.5,438.8 L549.5,435.0 L552.0,432.0 L558.2,433.8 L563.2,431.2 L567.0,432.0 L572.0,428.8 L579.5,428.2 L584.5,428.2 L589.5,430.5 L593.2,431.8 L597.0,431.2 L600.8,436.2 L605.8,435.0 L608.2,436.2 L612.0,441.2 L615.8,436.2 L619.5,447.5 L623.2,457.5 L627.0,443.8 L630.8,443.0 L634.5,437.5 L638.2,432.5 L643.2,430.5 L648.2,429.2 L653.2,430.0 L657.0,435.0 L660.8,438.2 L664.5,438.2 L668.2,435.8" stroke="#000" stroke-width="1.05" fill="none" stroke-linejoin="round"/>
<text x="3.2" y="433.6" font-size="6.6" font-weight="bold" fill="#111" textLength="46" lengthAdjust="spacingAndGlyphs">STO Slow(14,3)</text>
<text x="998.3" y="447.6" font-size="7.1" fill="#222" textLength="15.8" lengthAdjust="spacingAndGlyphs">80.00</text>
<g><path d="M993.8,436.50 L996.6,432.10 L1015.6,432.10 L1015.6,440.90 L996.6,440.90 Z" fill="#fff" stroke="#888" stroke-width="0.9"/>
<text x="998.3" y="439.10" font-size="7.1" fill="#111" textLength="15.8" lengthAdjust="spacingAndGlyphs">77.35</text></g>
<g><path d="M993.8,449.60 L996.6,445.80 L1015.6,445.80 L1015.6,453.40 L996.6,453.40 Z" fill="#fff" stroke="#888" stroke-width="0.9"/>
<text x="998.3" y="452.20" font-size="7.1" fill="#111" textLength="15.8" lengthAdjust="spacingAndGlyphs">50.00</text></g>
<g clip-path="url(#clip20)"><path d="M993.8,464.60 L996.6,460.60 L1015.6,460.60 L1015.6,468.60 L996.6,468.60 Z" fill="#fff" stroke="#888" stroke-width="0.9"/>
<text x="998.3" y="467.20" font-size="7.1" fill="#111" textLength="15.8" lengthAdjust="spacingAndGlyphs">20.00</text></g>
<text x="3.6" y="9.2" font-size="7.6" font-weight="bold" fill="#222" textLength="53" lengthAdjust="spacingAndGlyphs">USDCHF - 1 day</text>
<text x="4.6" y="18.6" font-size="6.3" fill="#f03030" textLength="46" lengthAdjust="spacingAndGlyphs">BB(20,20,2.0,2.0)</text>
</svg>
</body>
</html>
